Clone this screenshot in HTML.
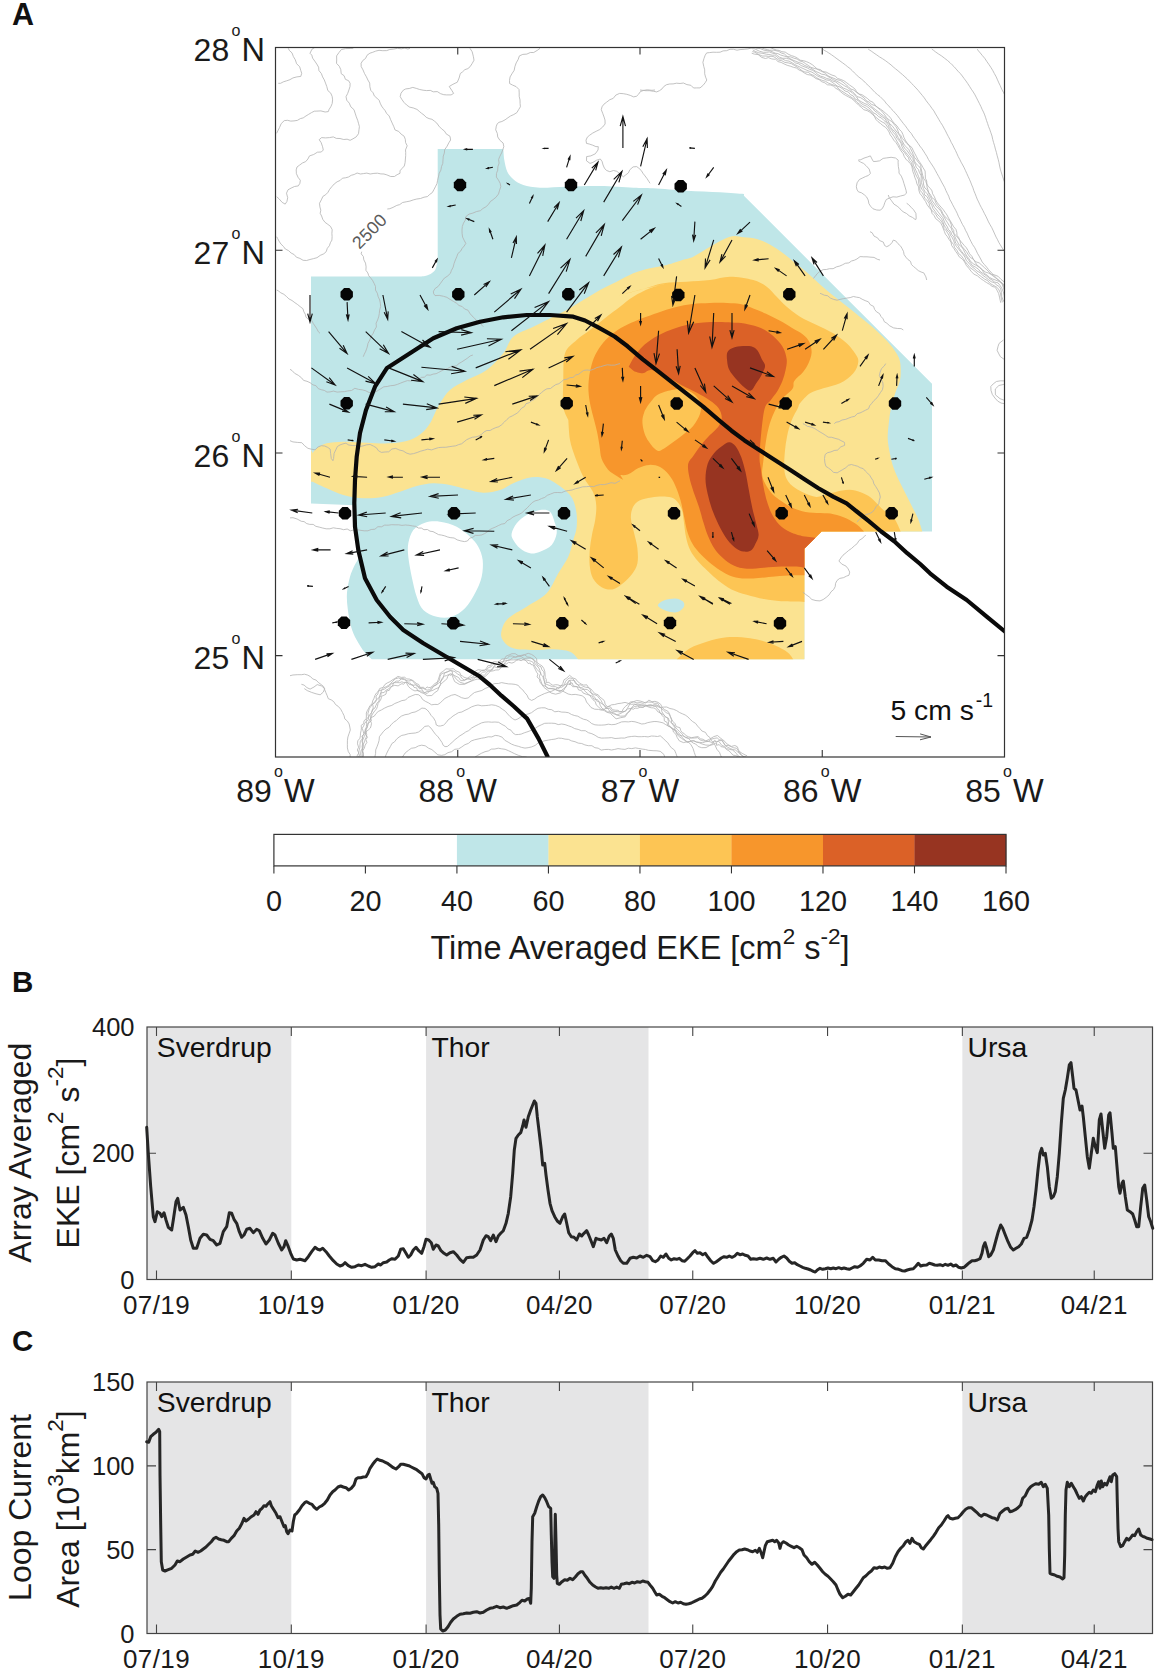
<!DOCTYPE html>
<html lang="en"><head><meta charset="utf-8"><title>Figure</title>
<style>html,body{margin:0;padding:0;background:#fff}svg{display:block}</style></head>
<body>
<svg width="1155" height="1672" viewBox="0 0 1155 1672" font-family="Liberation Sans, Arial, Helvetica, sans-serif">
<rect width="1155" height="1672" fill="#fff"/>
<text x="12" y="24.5" font-size="30.5" font-weight="bold" fill="#111">A</text>
<text x="12" y="991.5" font-size="29.5" font-weight="bold" fill="#111">B</text>
<text x="12" y="1351" font-size="29.5" font-weight="bold" fill="#111">C</text>
<clipPath id="mapclip"><rect x="275.5" y="47.5" width="729.0" height="709.5"/></clipPath>
<g clip-path="url(#mapclip)">
<path d="M311.0 276.5L416.0 276.5L416.0 276.5C417.5 276.4 422.3 276.6 425.0 276.0C427.7 275.4 430.2 274.3 432.0 273.0C433.8 271.7 435.1 270.5 436.0 268.0C436.9 265.5 437.4 259.7 437.7 258.0L437.7 258.0L437.7 149.0L503.0 149.0L503.3 149.0C503.5 150.8 503.7 156.2 504.3 160.0C505.0 163.8 505.8 168.4 507.3 171.7C508.8 174.9 510.7 177.1 513.3 179.3C516.0 181.6 518.9 183.6 523.3 185.0C527.8 186.4 532.8 187.4 540.0 187.7C547.2 187.9 556.7 186.9 566.7 186.7C576.7 186.4 588.9 185.8 600.0 186.0C611.1 186.2 624.4 187.3 633.3 187.7C642.2 188.1 644.4 187.8 653.3 188.3C662.2 188.8 675.6 190.0 686.7 190.7C697.8 191.3 710.4 191.8 720.0 192.3C729.6 192.9 740.0 193.7 744.0 194.0L743.9 195.7L932.0 383.8L932.0 531.5L821.7 531.5L804.4 548.8L804.4 659.3L371.7 659.3L371.7 659.3C370.5 658.1 367.1 655.5 364.6 652.3C362.1 649.1 359.0 644.3 356.7 640.0C354.4 635.7 352.5 631.7 351.0 626.4C349.5 621.1 348.4 614.0 347.7 608.4C347.0 602.8 346.6 597.9 347.0 592.6C347.4 587.3 348.8 581.3 350.0 576.8C351.2 572.3 353.0 569.1 354.5 565.6C356.0 562.1 358.5 559.8 359.0 556.0C359.5 552.2 358.1 548.2 357.5 543.0C356.9 537.8 356.0 531.2 355.5 525.0C355.0 518.8 354.7 509.2 354.5 506.0L354.5 505.2L311.0 503.6Z" fill="#bfe6e8"/>
<path d="M408.3 543.3C409.2 538.9 410.6 533.4 413.3 530.0C416.1 526.6 420.6 524.1 425.0 522.7C429.4 521.3 434.7 521.0 440.0 521.7C445.3 522.3 451.7 524.2 456.7 526.7C461.7 529.2 466.4 533.3 470.0 536.7C473.6 540.0 476.2 542.8 478.3 546.7C480.4 550.6 482.1 555.0 482.7 560.0C483.2 565.0 482.9 571.1 481.7 576.7C480.4 582.2 477.8 588.1 475.0 593.3C472.2 598.6 468.9 604.4 465.0 608.3C461.1 612.2 456.4 615.3 451.7 616.7C446.9 618.1 441.4 617.8 436.7 616.7C431.9 615.6 426.7 613.3 423.3 610.0C420.0 606.7 418.6 602.2 416.7 596.7C414.7 591.1 413.1 583.3 411.7 576.7C410.3 570.0 408.9 562.2 408.3 556.7C407.8 551.1 407.5 547.8 408.3 543.3Z" fill="#fff" />
<path d="M511.7 533.3C512.2 530.6 514.2 526.4 516.7 523.3C519.2 520.3 522.8 517.2 526.7 515.0C530.6 512.8 536.1 510.6 540.0 510.0C543.9 509.4 547.5 509.4 550.0 511.7C552.5 513.9 553.9 519.7 555.0 523.3C556.1 526.9 557.2 529.7 556.7 533.3C556.1 536.9 554.4 541.9 551.7 545.0C548.9 548.1 543.6 550.3 540.0 551.7C536.4 553.1 533.3 553.9 530.0 553.3C526.7 552.8 522.8 550.6 520.0 548.3C517.2 546.1 514.7 542.5 513.3 540.0C511.9 537.5 511.1 536.1 511.7 533.3Z" fill="#fff" />
<path d="M311.0 481.7L311.0 450.0L312.7 453.3C313.3 452.5 314.3 450.0 316.7 448.3C319.0 446.7 322.2 444.4 326.7 443.3C331.1 442.2 336.7 441.8 343.3 441.7C350.0 441.6 358.9 442.4 366.7 442.7C374.4 442.9 382.8 443.8 390.0 443.3C397.2 442.9 404.4 441.9 410.0 440.0C415.6 438.1 420.0 434.4 423.3 431.7C426.7 428.9 428.3 425.8 430.0 423.3C431.7 420.8 431.7 420.0 433.3 416.7C435.0 413.3 437.2 407.8 440.0 403.3C442.8 398.9 445.6 393.9 450.0 390.0C454.4 386.1 460.6 383.3 466.7 380.0C472.8 376.7 480.6 374.4 486.7 370.0C492.8 365.6 498.9 358.9 503.3 353.3C507.8 347.8 508.3 341.1 513.3 336.7C518.3 332.2 526.7 330.0 533.3 326.7C540.0 323.3 547.8 319.4 553.3 316.7C558.9 313.9 561.7 312.8 566.7 310.0C571.7 307.2 577.8 303.3 583.3 300.0C588.9 296.7 594.4 293.1 600.0 290.0C605.6 286.9 611.1 284.4 616.7 281.7C622.2 278.9 627.8 275.6 633.3 273.3C638.9 271.1 644.4 269.7 650.0 268.3C655.6 266.9 660.8 266.5 666.7 265.0C672.5 263.5 680.6 260.7 685.0 259.3C689.4 257.9 689.2 258.8 693.3 256.7C697.5 254.6 703.9 250.0 710.0 246.7C716.1 243.3 724.4 238.2 730.0 236.7C735.6 235.1 739.3 236.8 743.8 237.2C748.3 237.6 752.5 237.8 756.8 239.0C761.1 240.2 765.5 242.0 769.8 244.4C774.1 246.7 778.8 250.1 782.8 253.0C786.7 255.9 790.0 258.8 793.6 261.7C797.2 264.6 800.8 267.3 804.4 270.3C808.0 273.4 811.6 276.8 815.2 280.1C818.8 283.3 822.5 286.8 826.1 289.8C829.7 292.9 833.3 295.6 836.9 298.5C840.5 301.4 844.1 304.3 847.7 307.1C851.3 310.0 854.9 312.9 858.5 315.8C862.1 318.7 865.7 321.4 869.4 324.5C873.0 327.5 876.9 331.1 880.2 334.2C883.4 337.3 886.3 340.0 888.8 342.9C891.4 345.7 893.5 348.6 895.3 351.5C897.1 354.4 898.8 356.9 899.7 360.2C900.6 363.4 900.7 367.4 900.7 371.0C900.7 374.6 900.6 378.2 899.7 381.8C898.7 385.5 896.7 388.6 895.3 393.0C893.8 397.4 892.0 403.1 891.0 408.1C889.9 413.2 889.3 418.2 888.8 423.3C888.2 428.3 887.5 433.4 887.7 438.4C887.9 443.5 889.0 448.9 889.9 453.6C890.8 458.3 891.7 462.3 893.1 466.6C894.6 470.9 896.5 475.2 898.5 479.6C900.5 483.9 902.9 488.2 905.0 492.6C907.2 496.9 909.4 501.2 911.5 505.5C913.7 509.9 916.2 514.2 918.0 518.5C919.8 522.9 921.6 529.4 922.3 531.5L821.7 531.5L804.4 548.8L804.4 659.3L578.3 659.3C576.9 658.1 574.2 653.3 570.0 651.7C565.8 650.0 559.4 649.6 553.3 649.3C547.2 649.1 540.0 650.2 533.3 650.0C526.7 649.8 518.4 650.0 513.3 648.3C508.2 646.7 504.6 643.1 502.7 640.0C500.7 636.9 500.7 633.6 501.7 630.0C502.6 626.4 504.2 622.2 508.3 618.3C512.5 614.4 520.3 610.8 526.7 606.7C533.1 602.5 541.4 598.9 546.7 593.3C551.9 587.8 554.7 579.4 558.3 573.3C561.9 567.2 565.8 562.2 568.3 556.7C570.8 551.1 571.9 545.0 573.3 540.0C574.7 535.0 576.2 531.7 576.7 526.7C577.1 521.7 577.1 515.3 576.0 510.0C574.9 504.7 573.8 499.7 570.0 495.0C566.2 490.3 558.3 484.6 553.3 481.7C548.3 478.7 544.4 477.9 540.0 477.3C535.6 476.8 531.1 477.3 526.7 478.3C522.2 479.3 517.8 481.4 513.3 483.3C508.9 485.3 505.0 488.4 500.0 490.0C495.0 491.6 488.9 492.8 483.3 492.7C477.8 492.6 472.2 490.6 466.7 489.3C461.1 488.1 455.6 486.0 450.0 485.0C444.4 484.0 438.9 483.2 433.3 483.3C427.8 483.5 422.2 484.6 416.7 486.0C411.1 487.4 405.6 489.9 400.0 491.7C394.4 493.4 389.4 495.6 383.3 496.7C377.2 497.8 370.0 498.6 363.3 498.3C356.7 498.1 349.4 496.7 343.3 495.0C337.2 493.3 331.8 490.6 326.7 488.3C321.6 486.1 315.0 482.8 312.7 481.7Z" fill="#fbe391"/>
<path d="M657.9 605.6C657.6 603.8 661.5 601.4 664.4 600.2C667.3 599.0 672.2 598.3 675.2 598.4C678.3 598.6 681.4 599.9 682.8 601.3C684.3 602.6 684.8 604.9 683.9 606.7C683.0 608.5 680.3 611.4 677.4 612.1C674.5 612.8 669.8 612.1 666.6 611.0C663.3 609.9 658.3 607.4 657.9 605.6Z" fill="#bfe6e8" />
<path d="M568.3 420.0C567.5 417.8 564.2 413.3 563.3 406.7C562.5 400.0 563.1 388.9 563.3 380.0C563.6 371.1 562.8 360.0 565.0 353.3C567.2 346.7 572.5 343.9 576.7 340.0C580.8 336.1 585.0 333.9 590.0 330.0C595.0 326.1 601.7 320.6 606.7 316.7C611.7 312.8 615.6 310.0 620.0 306.7C624.4 303.3 628.3 299.7 633.3 296.7C638.3 293.6 644.4 290.6 650.0 288.3C655.6 286.1 671.7 282.2 666.7 283.3C661.7 284.4 624.4 293.9 620.0 295.0C615.6 296.1 632.8 291.9 640.0 290.0C647.2 288.1 655.6 284.7 663.3 283.3C671.1 281.9 678.9 282.2 686.7 281.7C694.4 281.1 702.8 280.8 710.0 280.0C717.2 279.2 722.8 276.7 730.0 276.7C737.2 276.7 747.2 278.3 753.3 280.0C759.4 281.7 762.8 283.9 766.7 286.7C770.6 289.4 773.3 293.3 776.7 296.7C780.0 300.0 782.8 303.3 786.7 306.7C790.6 310.0 795.0 313.6 800.0 316.7C805.0 319.7 811.1 322.2 816.7 325.0C822.2 327.8 828.3 330.3 833.3 333.3C838.3 336.4 843.1 340.0 846.7 343.3C850.3 346.7 853.1 350.3 855.0 353.3C856.9 356.4 858.6 358.3 858.3 361.7C858.1 365.0 856.4 369.7 853.3 373.3C850.3 376.9 845.0 380.8 840.0 383.3C835.0 385.8 828.3 386.7 823.3 388.3C818.3 390.0 813.9 390.8 810.0 393.3C806.1 395.8 802.0 400.9 800.0 403.3C798.0 405.8 799.3 405.2 797.9 408.1C796.4 411.1 793.2 416.4 791.4 421.1C789.6 425.8 788.1 431.2 787.1 436.3C786.0 441.3 785.4 446.4 784.9 451.4C784.4 456.5 784.1 462.3 784.2 466.6C784.4 470.9 784.6 474.2 786.0 477.4C787.3 480.6 789.6 483.5 792.5 486.1C795.4 488.6 799.3 490.8 803.3 492.6C807.3 494.4 811.9 496.7 816.3 496.9C820.6 497.1 824.9 494.7 829.3 493.6C833.6 492.6 837.9 490.9 842.3 490.4C846.6 489.8 850.9 489.5 855.2 490.4C859.6 491.3 864.6 493.6 868.2 495.8C871.8 498.0 874.4 501.0 876.9 503.4C879.4 505.7 880.5 507.3 883.4 509.9C886.3 512.4 891.3 514.9 894.2 518.5C897.1 522.1 899.6 529.4 900.7 531.5L821.7 531.5L804.4 548.8L804.4 601.9C800.5 601.8 788.0 601.7 781.3 601.3C774.6 600.8 769.8 600.2 764.0 599.1C758.2 598.0 752.1 596.4 746.7 594.8C741.3 593.1 736.2 591.7 731.5 589.4C726.8 587.0 722.5 583.8 718.5 580.7C714.6 577.6 711.1 574.2 707.7 571.0C704.3 567.7 700.9 564.6 698.0 561.2C695.1 557.8 692.4 554.4 690.4 550.4C688.4 546.4 687.1 542.1 686.1 537.4C685.0 532.7 684.6 526.9 683.9 522.3C683.2 517.6 683.2 513.1 681.7 509.3C680.3 505.5 677.8 501.6 675.2 499.5C672.7 497.4 670.5 497.1 666.6 496.7C662.6 496.3 655.9 496.7 651.4 497.4C646.9 498.0 642.6 499.0 639.5 500.6C636.5 502.2 634.5 504.2 633.0 507.1C631.6 510.0 630.7 513.6 630.9 517.9C631.0 522.3 633.0 528.0 634.1 533.1C635.2 538.1 636.8 543.2 637.4 548.2C637.9 553.3 638.3 559.0 637.4 563.4C636.5 567.7 634.3 571.0 631.9 574.2C629.6 577.4 626.5 580.3 623.3 582.9C620.0 585.4 616.1 588.6 612.5 589.4C608.9 590.1 604.9 589.0 601.6 587.2C598.4 585.4 595.0 582.1 593.0 578.5C591.0 574.9 590.3 570.2 589.7 565.5C589.2 560.9 589.4 555.4 589.7 550.4C590.1 545.3 591.0 540.3 591.9 535.2C592.8 530.2 594.4 525.1 595.2 520.1C595.9 515.0 596.6 509.6 596.2 504.9C595.9 500.2 595.1 496.7 593.0 491.9C590.8 487.2 586.3 482.5 583.3 476.7C580.3 470.8 577.2 462.8 575.0 456.7C572.8 450.6 571.1 446.1 570.0 440.0C568.9 433.9 568.6 423.3 568.3 420.0Z" fill="#fdc554"/>
<path d="M793.3 659.3L676.7 659.3L676.7 659.3C678.9 657.5 685.0 651.3 690.0 648.3C695.0 645.4 700.6 643.5 706.7 641.7C712.8 639.8 719.4 637.9 726.7 637.3C733.9 636.8 742.8 637.3 750.0 638.3C757.2 639.3 763.9 641.1 770.0 643.3C776.1 645.6 782.8 649.0 786.7 651.7C790.6 654.3 792.2 658.1 793.3 659.3Z" fill="#fdc554"/>
<path d="M623.3 480.0C622.2 479.4 619.3 477.9 616.8 476.1C614.3 474.4 610.7 472.5 608.1 469.7C605.6 466.8 603.1 462.8 601.6 458.8C600.2 454.9 600.2 450.2 599.5 445.8C598.8 441.5 598.2 437.2 597.3 432.9C596.4 428.5 595.2 424.2 594.1 419.9C593.0 415.5 591.7 411.2 590.8 406.9C589.9 402.6 589.0 398.2 588.7 393.9C588.3 389.6 588.3 385.2 588.7 380.9C589.0 376.6 589.7 372.3 590.8 367.9C591.9 363.6 593.0 359.3 595.2 354.9C597.3 350.6 600.6 345.7 603.8 341.9C607.1 338.2 610.7 335.1 614.6 332.2C618.6 329.3 622.9 327.0 627.6 324.6C632.3 322.3 637.7 320.1 642.8 318.1C647.8 316.2 652.5 314.5 657.9 312.7C663.3 310.9 669.5 308.8 675.2 307.3C681.0 305.9 686.8 304.8 692.6 304.1C698.3 303.3 704.1 303.2 709.9 303.0C715.6 302.8 722.1 302.8 727.2 303.0C732.2 303.2 735.8 303.2 740.2 304.1C744.5 305.0 748.8 306.8 753.2 308.4C757.5 310.0 761.8 311.8 766.1 313.8C770.5 315.8 774.8 318.0 779.1 320.3C783.5 322.6 788.2 325.5 792.1 327.9C796.1 330.2 800.1 332.0 802.9 334.4C805.8 336.7 808.0 338.9 809.4 341.9C810.9 345.0 811.8 349.2 811.6 352.8C811.4 356.4 809.8 360.3 808.4 363.6C806.9 366.8 805.3 369.4 802.9 372.3C800.6 375.1 796.0 378.2 794.3 380.9C792.5 383.6 794.6 385.6 792.5 388.7C790.4 391.8 784.7 395.5 781.6 399.5C778.6 403.4 776.2 407.8 774.1 412.5C771.9 417.2 770.1 422.2 768.7 427.6C767.2 433.0 766.3 439.2 765.4 444.9C764.5 450.7 763.8 457.2 763.2 462.3C762.7 467.3 761.6 471.3 762.2 475.2C762.7 479.2 764.7 482.8 766.5 486.1C768.3 489.3 770.5 492.2 773.0 494.7C775.5 497.2 778.4 499.0 781.6 501.2C784.9 503.4 788.5 505.9 792.5 507.7C796.4 509.5 800.8 511.1 805.5 512.0C810.1 512.9 815.9 512.8 820.6 513.1C825.3 513.5 829.3 513.3 833.6 514.2C837.9 515.1 842.6 516.7 846.6 518.5C850.5 520.3 854.5 522.9 857.4 525.0C860.3 527.2 862.8 530.4 863.9 531.5L821.7 531.5L804.4 548.8L804.4 575.3L803.4 575.3C801.5 575.3 796.9 575.1 792.1 575.3C787.4 575.5 781.3 575.8 774.8 576.4C768.3 576.9 759.7 578.3 753.2 578.5C746.7 578.7 740.9 578.5 735.8 577.4C730.8 576.4 726.8 574.2 722.9 572.0C718.9 569.9 715.6 567.3 712.0 564.5C708.4 561.6 704.5 558.1 701.2 554.7C698.0 551.3 694.9 547.9 692.6 543.9C690.2 539.9 688.6 535.6 687.1 530.9C685.7 526.2 685.0 520.8 683.9 515.8C682.8 510.7 682.1 505.7 680.6 500.6C679.2 495.6 677.2 489.8 675.2 485.5C673.3 481.1 671.3 477.7 668.7 474.6C666.2 471.6 663.3 468.7 660.1 467.1C656.8 465.4 652.9 464.7 649.3 464.9C645.7 465.1 642.0 466.5 638.4 468.1C634.8 469.8 631.2 473.7 627.6 474.6C624.0 475.5 620.2 475.4 616.8 473.5C613.4 471.7 609.6 467.2 607.1 463.8C604.5 460.4 602.9 457.0 601.6 453.0C600.4 449.0 599.8 442.2 599.5 440.0Z" fill="#f7962c"/>
<path d="M642.4 420.6C642.5 417.8 643.3 415.0 644.1 412.8C644.8 410.5 645.7 409.1 646.9 407.1C648.1 405.2 649.9 402.8 651.4 401.0C652.9 399.1 654.2 397.2 655.9 395.9C657.6 394.6 659.5 393.9 661.5 393.1C663.6 392.2 666.0 391.4 668.3 390.8C670.5 390.2 673.0 389.6 675.0 389.4C677.1 389.1 678.4 388.9 680.6 389.1C682.9 389.4 686.1 389.8 688.5 390.8C691.0 391.9 693.4 393.5 695.3 395.3C697.2 397.1 698.8 399.4 699.8 401.5C700.8 403.7 701.2 405.8 701.1 408.3C701.0 410.7 700.2 413.7 699.2 416.1C698.2 418.6 696.7 420.8 695.3 422.9C693.9 425.0 692.5 426.8 690.8 428.5C689.1 430.2 687.0 431.5 685.2 433.0C683.3 434.5 681.5 436.0 679.5 437.5C677.6 439.0 675.4 440.5 673.3 442.0C671.3 443.5 669.1 445.2 667.1 446.5C665.2 447.8 663.0 449.2 661.5 449.9C660.0 450.7 659.5 451.4 658.1 451.0C656.8 450.7 655.1 449.2 653.6 447.7C652.1 446.2 650.4 443.9 649.1 442.0C647.8 440.2 646.7 438.5 645.8 436.4C644.8 434.3 644.1 432.3 643.5 429.7C642.9 427.0 642.3 423.5 642.4 420.6Z" fill="#fdc554" />
<path d="M628.7 366.8C629.6 365.2 632.1 360.2 634.1 357.1C636.1 354.0 638.1 351.1 640.6 348.4C643.1 345.7 646.0 343.2 649.3 340.9C652.5 338.5 656.1 336.4 660.1 334.4C664.1 332.4 668.4 330.6 673.1 329.0C677.8 327.3 683.2 325.7 688.2 324.6C693.3 323.5 698.3 322.9 703.4 322.5C708.4 322.0 713.8 322.0 718.5 322.0C723.2 322.0 727.2 322.2 731.5 322.5C735.8 322.7 740.2 322.8 744.5 323.5C748.8 324.3 753.5 325.4 757.5 326.8C761.5 328.2 765.1 330.0 768.3 332.2C771.6 334.4 774.4 337.1 777.0 339.8C779.5 342.5 781.8 345.2 783.5 348.4C785.1 351.7 786.3 355.7 786.7 359.3C787.1 362.9 786.3 366.5 785.6 370.1C784.9 373.7 783.8 377.3 782.4 380.9C780.9 384.5 779.0 388.5 777.0 391.7C775.0 395.0 772.6 397.1 770.5 400.4C768.3 403.6 765.8 402.4 764.0 411.2C762.2 420.0 760.2 443.5 759.7 453.0C759.1 462.5 760.2 463.1 760.7 468.1C761.3 473.2 762.0 478.2 762.9 483.3C763.8 488.3 764.7 493.4 766.1 498.4C767.6 503.5 769.4 509.3 771.6 513.6C773.7 517.9 776.1 521.3 779.1 524.4C782.2 527.5 786.0 530.0 790.0 532.0C793.9 534.0 800.8 535.6 802.9 536.3L815.5 537.7L804.4 548.8L804.4 567.7L803.4 567.7C802.2 567.5 800.1 566.8 796.5 566.6C792.8 566.4 786.7 566.4 781.3 566.6C775.9 566.8 769.8 567.3 764.0 567.7C758.2 568.1 751.7 569.1 746.7 568.8C741.6 568.4 737.6 567.3 733.7 565.5C729.7 563.7 726.1 560.9 722.9 558.0C719.6 555.1 716.7 552.0 714.2 548.2C711.7 544.4 709.5 539.6 707.7 535.2C705.9 530.9 704.8 526.9 703.4 522.3C701.9 517.6 700.7 512.2 699.0 507.1C697.4 502.0 695.3 497.0 693.6 491.9C692.0 486.9 690.2 481.5 689.3 476.8C688.4 472.1 687.5 467.3 688.2 463.8C688.9 460.3 691.5 458.8 693.6 455.6C695.8 452.4 698.5 448.2 701.2 444.8C703.9 441.3 707.0 438.1 709.9 435.0C712.8 432.0 716.5 429.2 718.5 426.4C720.5 423.5 721.8 420.8 721.8 417.7C721.8 414.6 720.5 410.9 718.5 408.0C716.5 405.1 713.5 402.9 709.9 400.4C706.3 397.9 701.6 395.3 696.9 392.8C692.2 390.3 686.8 387.9 681.7 385.2C676.7 382.5 671.6 379.1 666.6 376.6C661.5 374.1 655.4 370.6 651.4 370.1C647.5 369.5 645.7 373.2 642.8 373.3C639.9 373.5 635.6 371.5 634.1 371.2Z" fill="#db6127"/>
<path d="M727.2 352.8C727.9 350.6 729.4 349.5 731.5 348.4C733.7 347.4 736.9 346.6 740.2 346.3C743.4 345.9 748.1 345.6 751.0 346.3C753.9 347.0 755.7 348.4 757.5 350.6C759.3 352.8 760.6 356.7 761.8 359.3C763.1 361.8 765.1 363.2 765.1 365.8C765.1 368.3 763.3 371.5 761.8 374.4C760.4 377.3 758.2 380.4 756.4 383.1C754.6 385.8 753.0 389.9 751.0 390.6C749.0 391.4 747.0 389.4 744.5 387.4C742.0 385.4 738.4 381.6 735.8 378.7C733.3 375.9 730.8 373.0 729.4 370.1C727.9 367.2 727.5 364.3 727.2 361.4C726.8 358.5 726.5 354.9 727.2 352.8Z" fill="#973421" />
<path d="M729.4 442.2C731.5 442.3 733.9 444.0 735.8 446.5C737.8 449.0 739.6 453.0 741.3 457.3C742.9 461.6 744.3 467.1 745.6 472.5C746.8 477.9 747.7 484.0 748.8 489.8C749.9 495.6 750.8 501.3 752.1 507.1C753.3 512.9 755.3 519.7 756.4 524.4C757.5 529.1 758.8 532.0 758.6 535.2C758.4 538.5 756.6 541.4 755.3 543.9C754.1 546.4 753.0 549.1 751.0 550.4C749.0 551.7 745.9 551.8 743.4 551.5C740.9 551.1 738.5 550.2 735.8 548.2C733.1 546.2 730.1 543.5 727.2 539.6C724.3 535.6 721.1 529.5 718.5 524.4C716.0 519.4 713.8 514.3 712.0 509.3C710.2 504.2 708.8 499.2 707.7 494.1C706.6 489.1 705.5 484.0 705.5 479.0C705.5 473.9 706.3 468.1 707.7 463.8C709.1 459.5 711.7 456.1 714.2 453.0C716.7 449.9 720.3 447.2 722.9 445.4C725.4 443.6 727.2 442.0 729.4 442.2Z" fill="#973421" />
<path d="M278.3 83.3L280.6 83.3L283.4 81.8L286.7 80.8L289.9 79.7L293.0 77.9L296.8 76.9L300.8 76.4L301.7 73.3L300.8 70.6L299.7 66.8L296.6 63.7L295.3 59.8L293.4 56.6L292.0 52.9L289.4 50.5L288.3 48.3M276.7 133.3L277.8 130.9L279.5 127.6L281.2 123.6L284.3 120.6L287.4 120.3L290.7 121.1L294.0 120.9L297.3 120.4L300.4 118.6L303.2 117.9L305.9 116.0L308.7 114.3L311.5 112.6L314.3 111.2L316.8 111.1L320.9 110.9L325.1 112.0L328.3 111.6L329.1 109.4L330.8 106.8L332.2 103.5L332.6 99.9L332.2 96.6L330.8 93.2L327.8 90.5L326.8 86.6L325.5 83.1L324.3 79.9L322.6 76.9L321.4 73.6L318.9 70.5L318.6 67.2L316.8 64.1L314.7 61.0L312.6 58.1L311.8 55.1L310.0 53.3L311.9 49.3L315.0 47.3M276.7 196.7L279.2 199.0L282.2 202.4L285.2 204.1L286.9 201.5L287.7 197.7L286.5 193.2L288.0 189.8L291.1 188.1L294.5 186.5L298.3 185.9L299.9 183.3L300.3 180.3L298.0 177.2L296.4 173.6L296.2 169.9L297.0 167.0L299.6 165.1L302.4 163.0L305.7 161.6L307.9 159.0L309.5 155.9L313.7 154.5L317.4 152.2L321.3 152.0L323.3 150.0L322.6 146.8L321.2 142.7L319.2 139.7L321.6 137.6L325.5 137.9L329.5 137.6L333.3 136.9L336.3 138.4L340.0 138.5L343.7 139.5L347.1 139.2L350.1 140.3L353.0 138.8L356.2 136.9L358.5 133.7L359.0 129.7L359.4 126.6L358.6 123.7L357.7 120.4L356.3 116.8L355.1 113.1L354.0 109.7L350.8 106.8L349.3 103.2L346.8 100.3L346.0 96.7L347.7 93.4L348.9 90.0L350.0 86.5L350.1 83.3L348.6 80.7L345.4 79.3L344.1 75.7L341.2 73.7L340.8 69.7L339.3 66.3L336.5 63.3L336.7 60.0L336.6 55.9L339.0 52.5L341.4 49.5L345.5 48.6L350.1 48.5L353.3 48.3M276.7 236.7L277.6 238.5L279.0 241.1L280.9 244.0L283.5 246.5L285.3 249.0L288.5 250.6L291.1 253.0L294.2 254.6L296.4 257.2L299.9 258.4L303.1 260.3L306.6 260.5L309.9 259.5L313.3 258.7L317.0 257.7L320.2 255.4L323.8 253.8L326.2 251.7L327.3 248.3L329.4 245.7L330.4 242.7L331.9 240.1L332.1 236.7L331.9 233.3L332.2 229.7L330.5 226.4L327.9 224.4L325.1 222.4L322.8 219.4L321.6 216.0L320.2 213.3L320.8 210.2L319.9 206.9L319.5 203.3L321.3 199.9L322.9 196.4L325.7 194.7L327.9 192.4L329.6 189.4L331.9 186.6L334.3 183.9L337.1 181.8L340.2 180.4L342.4 178.2L345.5 177.8L348.5 177.0L351.2 175.3L354.2 174.5L357.1 173.0L360.4 174.0L363.4 173.6L366.8 173.1L370.2 174.0L373.9 173.4L377.5 173.2L380.8 173.9L383.9 174.0L386.7 174.8L390.7 176.5L394.4 176.5L397.1 174.7L400.0 173.3L400.0 170.8L401.9 168.6L404.3 166.0L405.1 162.6L405.4 159.0L405.7 155.6L405.7 152.5L405.5 149.9L407.2 145.8L405.6 142.6L405.3 139.3L404.1 136.2L401.1 134.1L398.7 131.4L395.1 130.0L393.7 126.4L392.2 123.1L390.6 119.6L389.2 116.0L386.6 113.4L385.1 110.6L383.3 108.4L381.6 106.1L380.2 103.2L379.2 100.4L376.9 98.1L374.3 95.9L373.1 92.8L370.8 90.4L369.9 86.8L369.7 83.1L367.9 80.0L366.4 76.8L364.5 73.5L363.0 69.9L361.2 66.6L361.1 63.3L362.8 60.5L365.5 58.5L367.0 55.3L369.9 53.2L372.7 52.3L375.7 51.1L379.0 50.3L382.8 50.7L386.7 50.6L389.8 49.5L393.5 49.1L397.4 48.3L401.3 48.8L404.8 48.1L407.9 49.0L410.0 48.3M470.0 48.3L472.2 51.8L473.4 56.7L474.0 60.2L472.1 63.6L470.1 66.7L467.9 68.6L464.8 69.7L462.4 72.0L460.3 73.5L459.1 78.0L457.3 82.2L452.9 84.3L449.2 86.5L451.7 90.2L453.6 93.4L451.1 94.9L446.7 94.9L443.8 94.7L440.6 93.7L437.3 91.6L433.3 91.8L430.3 90.4L426.6 90.6L423.1 90.2L419.7 89.5L416.7 88.5L412.8 87.4L409.2 88.5L405.8 88.9L403.4 90.1L401.0 93.2L400.2 96.6L401.7 99.2L403.9 102.3L406.6 105.0L409.6 107.1L413.4 108.0L417.0 109.4L419.3 111.4L421.6 113.3L424.1 115.1L426.2 117.3L429.0 118.6L432.0 119.3L434.4 121.1L436.8 123.1L438.9 126.1L441.6 128.9L444.5 131.1L446.1 133.8L450.0 136.3L450.6 140.0L448.8 142.8L447.1 146.2L444.6 149.8L444.4 152.9L443.3 156.1L443.0 159.7L442.8 163.3L441.5 166.6L440.9 170.1L439.2 173.4L438.4 176.9L437.6 180.3L437.0 183.5L435.4 186.8L433.8 189.8L432.3 192.6L429.6 194.5L427.4 196.6L424.0 197.2L420.5 198.5L416.8 199.0L413.3 199.9L409.9 201.1L406.2 201.8L402.6 202.5L399.7 204.6L396.8 205.4L393.0 207.4L389.8 208.7L387.3 209.0M361.7 251.7L361.2 253.9L363.3 256.4L363.8 259.8L365.5 263.1L366.1 266.7L365.9 270.3L367.8 272.9L368.8 275.8L370.9 278.2L372.7 280.7L374.2 283.5L375.5 286.5L375.5 290.1L377.3 293.2L378.2 296.7L379.7 300.0L380.4 303.4L380.6 306.6L379.6 310.2L379.3 313.6L378.7 316.8L377.6 320.0L376.1 323.2L376.4 327.0L374.5 330.1L373.1 333.5L371.0 336.5L369.8 339.9L368.0 343.4L367.1 347.5L365.7 351.3L364.2 354.4L363.3 356.7M540.0 48.3L537.7 50.1L533.7 52.5L530.3 52.5L526.8 54.1L522.8 54.4L519.4 55.9L518.1 59.6L516.2 62.9L514.9 66.6L514.2 70.3L512.1 73.5L510.1 76.9L509.5 80.4L509.6 83.5L512.6 85.1L516.1 86.6L519.0 89.5L519.2 92.8L519.2 96.4L520.0 99.9L520.1 103.4L520.4 106.8L518.7 109.5L516.9 112.6L513.8 114.5L510.5 116.0L508.0 117.7L505.1 119.8L501.9 121.5L499.0 122.3L497.3 123.7L496.3 126.2L495.7 129.8L497.3 133.4L497.7 136.9L499.9 140.3L503.1 143.0L503.8 146.6L502.8 149.7L501.6 152.9L499.7 156.6L498.6 159.5L499.1 163.2L497.9 166.7L497.7 170.2L496.5 173.3L496.4 177.1L498.5 180.2L500.2 183.3L500.8 186.7L499.6 190.2L498.5 194.0L496.1 197.1L493.0 199.7L490.4 201.5L488.5 204.4L485.9 206.8L482.9 208.5L480.4 210.7L476.4 211.6L472.8 213.1L469.1 214.1L466.2 216.2L465.4 220.0L463.5 223.1L462.3 226.5L462.0 230.0L462.1 233.4L462.6 237.1L464.1 240.2L465.8 243.4L464.2 246.0L462.2 248.3L460.6 251.2L457.9 253.5L456.8 256.7L455.4 259.9L454.1 263.4L453.2 267.1L451.5 270.3L450.3 273.5L447.5 276.1L444.4 278.1L442.2 280.9L440.3 283.6L438.2 286.4L435.1 288.5L433.5 291.2L433.5 293.3L435.0 295.6L439.2 295.4L443.5 296.3L446.8 297.3L449.9 299.3L453.3 301.3L456.7 303.3L459.0 305.5L462.3 306.6L464.6 309.0L468.0 310.2L469.9 313.4L472.0 315.9L474.6 318.3L477.0 321.1L480.1 322.9L481.9 325.2L483.3 326.7M655.0 90.0L651.8 90.3L647.3 89.8L643.5 90.4L640.4 91.6L638.5 94.3L636.6 96.2L633.7 96.9L630.3 95.4L626.7 94.3L623.4 93.7L619.6 93.4L615.8 95.1L613.2 98.4L609.8 99.7L606.6 102.2L603.8 104.3L602.0 106.8L601.3 109.7L602.7 113.3L604.0 116.9L605.0 120.0L605.1 124.0L602.6 127.1L599.6 129.6L596.5 131.1L592.8 133.0L589.4 135.4L587.3 137.2L586.0 140.2L586.5 143.4L589.2 144.0L592.7 145.2L595.9 146.6L598.3 146.7L598.0 150.0L595.3 153.8L590.8 155.9L586.6 156.6L586.5 160.8L590.0 163.4L592.9 162.4L596.6 160.2L600.3 159.0L602.1 161.5L603.0 164.9L604.4 168.1L606.4 170.4L609.8 171.7L613.5 170.5L616.8 171.3L620.5 174.2L623.3 176.8L625.5 175.1L628.4 172.9L629.8 169.8L633.1 166.9L636.7 166.6L638.8 168.2L641.2 170.4L643.1 173.5L645.0 175.9L647.1 178.7L648.8 181.4L650.0 183.3M276.7 290.0L278.5 291.0L280.8 292.8L283.9 294.3L286.7 296.7L288.9 298.9L292.0 300.5L294.9 302.7L297.7 304.6L300.1 306.6L302.9 308.7L303.9 311.8L305.3 314.3L306.0 317.2L308.6 319.3L311.7 320.4L313.2 323.4L315.0 326.0L316.9 328.9L318.3 331.7L320.0 333.3M640.0 90.0L642.4 90.3L645.8 90.7L649.8 90.7L653.5 91.3L656.7 91.9L659.6 90.6L662.0 88.9L663.8 86.5L666.5 84.7L669.6 84.0L673.1 83.9L676.6 83.2L680.1 83.5L683.4 83.0L686.9 84.6L690.9 85.3L693.6 88.0L696.6 87.9L700.0 87.9L702.9 85.5L705.2 82.7L706.8 80.0L705.6 77.2L704.7 73.8L704.7 69.8L703.8 66.6L702.9 62.3L704.0 58.4L705.2 55.2L706.7 52.9L709.7 52.6L713.0 52.2L716.5 52.3L720.1 52.2L723.1 50.9L726.5 50.7L730.0 49.3L733.6 49.3L737.0 50.2L740.0 49.6L744.1 49.3L747.9 48.9L751.1 48.1L753.3 48.3M858.3 160.0L860.8 159.7L864.0 158.1L867.4 157.0L870.4 155.9L871.9 158.9L873.4 161.5L876.0 161.4L879.7 160.8L883.1 158.4L886.6 157.9L891.1 157.3L895.5 158.0L898.2 160.1L898.1 162.7L898.3 166.3L899.0 170.2L899.0 173.1L901.3 176.1L903.0 180.2L903.9 183.3L905.1 187.1L906.1 190.6L906.5 193.2L904.3 195.1L900.5 196.0L896.8 197.1L893.0 196.8L889.6 198.0L886.3 199.5L884.9 202.4L883.8 205.7L882.3 208.6L880.1 210.2L876.7 210.0L873.0 208.8L870.5 206.2L868.9 203.6L868.2 200.0L866.5 196.8L864.3 194.8L861.5 192.8L858.4 191.8L857.1 189.8L856.3 186.8L857.1 182.8L859.4 179.5L862.3 178.1L865.4 176.6L868.5 175.4L870.4 173.4L869.2 169.1L866.0 165.6L863.7 163.5L860.5 162.0L858.3 160.7M888.3 195.0L889.2 197.6L891.5 200.7L893.9 204.1L897.2 206.2L899.5 208.1L901.5 210.5L903.9 212.2L906.5 213.5L909.2 215.8L912.6 217.5L915.1 219.4L916.0 219.4L916.2 217.9L915.9 213.4L913.6 209.8L911.1 207.3L908.7 204.7L906.7 203.3M870.0 231.7L872.2 232.8L874.0 236.1L877.5 237.8L879.5 240.5L883.3 242.1L884.6 245.5L886.7 246.7L889.4 245.4L892.0 242.6L893.3 240.1L895.7 240.9L897.9 243.6L900.7 246.2L902.1 248.6L903.5 251.4L904.1 254.6L905.9 257.2L907.9 259.5L910.5 261.4L911.4 264.5L913.5 266.5L915.8 268.4L918.3 270.6L921.1 272.0L923.8 272.9L925.9 276.9L926.7 280.0M813.3 278.3L815.0 276.7L816.9 274.0L819.8 271.4L823.2 269.6L826.3 269.5L829.5 268.7L833.1 268.7L836.4 266.9L839.8 266.0L842.5 264.8L845.3 263.3L848.8 262.9L851.5 261.0L854.4 260.2L856.9 259.0L860.1 256.6L863.8 256.8L867.0 256.8L869.9 257.1L874.0 257.4L877.4 259.3L880.0 260.0M820.0 293.3L821.8 294.0L824.3 295.2L827.5 295.7L830.4 298.1L833.7 299.4L837.0 300.2L840.0 299.4L843.3 298.7L846.7 298.1L850.2 297.6L853.4 296.5L856.6 297.2L859.4 297.6L862.1 299.2L865.1 300.6L868.4 301.8L870.4 304.8L873.6 306.4L874.6 309.4L876.5 311.8L879.5 313.6L881.0 316.5L883.1 318.8L884.3 321.7L886.8 323.2L889.8 325.9L893.6 327.9L897.7 328.5L901.2 328.6L903.3 330.0M822.7 49.1L824.1 50.3L826.3 51.4L828.7 52.9L831.4 54.7L834.2 56.7L837.0 58.8L839.9 60.9L842.8 63.0L845.5 65.0L847.7 66.8L850.1 68.6L852.3 70.7L854.4 72.9L856.6 75.0L858.9 77.1L861.4 79.0L863.8 81.0L865.9 83.3L868.2 85.4L870.5 87.6L872.7 90.0L874.9 92.3L877.4 94.5L880.0 96.5L882.3 98.8L884.6 101.1L886.5 103.8L888.8 105.9L890.7 108.3L893.1 110.7L895.3 113.2L897.5 115.7L899.4 118.3L901.4 120.9L903.3 123.4L905.3 125.8L907.2 128.4L909.0 131.0L911.2 133.3L912.8 136.0L914.6 138.5L916.4 141.0L918.2 143.5L919.9 146.1L921.8 148.5L923.5 151.0L925.1 153.6L926.9 156.4L928.4 159.4L930.2 162.2L932.1 165.0L933.9 167.8L935.5 170.7L937.0 173.5L938.6 176.4L940.2 179.2L941.6 182.0L943.2 184.8L944.7 187.6L945.9 190.5L947.3 193.4L948.7 196.2L949.7 199.2L951.3 202.0L952.7 204.8L954.2 207.6L955.7 210.4L957.2 213.3L958.3 216.2L959.9 219.0L961.2 221.9L962.6 224.7L964.3 227.4L965.5 230.3L967.1 233.1L968.3 236.0L969.7 238.9L971.1 241.7L972.6 244.6L974.5 247.3L976.0 250.2L977.4 253.2L979.1 256.1L980.7 259.0L982.2 262.0L984.4 264.6L986.6 267.1L988.5 269.6L990.8 272.0L993.2 274.6L995.5 277.3L998.0 279.6L1000.5 281.7L1002.7 283.6L1004.4 285.2L1005.7 286.6M868.2 49.1L869.7 50.1L871.7 51.4L874.0 53.1L876.7 54.9L879.5 56.9L882.5 58.7L885.5 60.7L888.3 62.8L891.0 64.9L893.2 66.9L895.5 68.8L897.9 70.7L900.2 72.7L902.6 74.7L904.9 76.8L907.2 78.9L909.4 81.1L911.5 83.3L913.6 85.5L915.9 87.9L918.1 90.3L920.2 92.9L922.3 95.4L924.3 97.9L926.1 100.6L928.1 103.2L930.0 105.6L931.8 108.2L933.9 110.9L935.5 113.9L937.3 116.8L938.9 119.6L940.6 122.5L942.4 125.2L943.9 128.0L945.5 130.9L946.9 133.8L948.4 136.6L949.9 139.4L951.2 142.3L952.8 145.1L954.1 147.9L955.6 150.7L956.9 153.6L958.2 156.5L959.7 159.3L961.1 162.2L962.7 165.0L964.2 167.8L965.5 170.7L966.8 173.5L968.1 176.4L969.4 179.2L970.6 182.0L971.7 184.9L972.9 187.7L973.8 190.6L975.0 193.4L976.1 196.2L977.2 199.1L978.6 201.9L979.9 204.8L981.4 207.6L982.9 210.4L984.3 213.3L985.8 216.1L987.2 219.0L988.5 221.9L990.1 224.8L991.8 227.7L993.3 230.9L994.7 234.0L996.1 237.1L997.6 239.8L998.8 242.4L1000.1 244.5L1002.7 248.8L1004.6 251.7L1005.7 253.6M931.8 49.1L933.5 50.3L935.7 52.0L938.4 53.9L941.4 55.8L944.4 58.1L947.4 60.4L950.0 62.7L952.1 64.8L954.2 66.8L956.2 69.1L958.1 71.3L960.3 73.5L962.2 75.9L964.0 78.4L965.9 80.9L967.7 83.5L969.5 86.3L971.3 89.2L973.2 91.9L975.0 94.9L976.5 97.8L978.0 100.8L979.5 103.7L980.9 106.5L982.1 109.3L983.5 112.1L984.7 114.9L985.7 117.8L986.6 120.7L987.6 123.5L988.5 126.4L989.8 129.6L990.9 132.8L992.0 136.0L992.7 139.3L993.6 142.6L994.6 145.8L995.4 149.1L996.4 152.4L997.2 155.8L998.2 159.3L999.0 162.7L999.6 166.0L1000.3 169.1L1001.1 171.8L1002.5 176.2L1003.8 180.1L1005.0 183.2L1005.7 185.5M977.3 49.1L978.4 50.8L980.3 53.0L982.4 55.6L984.8 58.4L986.9 61.6L989.0 64.6L990.8 67.3L992.7 70.4L994.4 73.6L996.1 76.7L997.5 79.8L998.8 82.8L1000.1 85.4L1001.7 89.1L1003.4 92.3L1004.8 94.9L1005.7 96.8M1003.4 340.0L999.0 343.5L998.0 346.6L997.1 350.3L998.8 353.8L1000.4 356.7L1004.1 359.3M1004.1 380.9L1000.6 380.8L996.4 381.5L993.2 383.9L990.8 386.5L991.0 390.4L992.3 394.4L994.9 398.0L997.8 401.2L1001.2 403.1L1004.1 403.6M1004.1 384.3L998.9 385.5L995.3 389.0L995.4 394.8L1000.0 398.7L1004.1 400.2M290.0 440.7L292.9 441.9L297.3 442.4L301.8 442.7L304.7 445.8L307.9 448.3L311.4 449.2L315.1 449.8L318.1 446.9L321.4 445.7L324.7 446.0L327.7 447.4L330.2 449.1L330.6 453.5L331.3 458.5L332.9 460.7L333.6 458.4L334.1 453.4L336.0 449.4L337.4 446.5L340.1 444.9L342.9 443.9L345.8 443.2L348.8 445.0L352.3 445.5L355.8 445.7L359.3 446.6L363.0 445.9L366.6 444.8L370.1 444.5L373.3 446.0L376.4 447.8L378.5 450.8L381.4 452.4L384.8 452.0L388.7 451.8L391.9 449.0L395.8 448.4L399.3 450.0L403.1 450.9L406.4 453.0L410.0 454.2L413.6 453.6L417.1 452.5L420.6 451.2L424.2 450.2L427.7 449.2L431.6 449.9L435.0 448.7L438.5 447.6L442.1 447.3L445.7 447.3L449.2 446.7L452.8 446.2L455.8 445.8L458.6 444.6L461.6 443.8L464.2 441.7L466.7 439.7L469.5 438.4L472.5 437.2L476.0 436.9L479.1 435.9L481.7 434.2L484.1 431.9L486.8 430.5L490.1 430.5L492.7 429.0L495.6 427.7L498.9 426.7L501.7 424.7L504.3 422.1L506.8 419.6L509.5 417.2L512.3 415.9L514.9 414.4L517.6 412.9L519.7 410.5L521.7 408.1L524.4 406.6L526.0 403.7L529.2 402.7L531.6 400.7L534.4 399.4L536.6 397.2L538.6 395.0L541.3 392.8L544.0 390.5L546.9 388.8L550.5 388.5L552.9 386.6L555.8 384.6L558.9 383.7L561.3 381.8L563.8 379.7L567.0 379.2L569.8 377.7L573.1 377.4L575.7 375.0L578.6 374.3L581.1 372.3L583.7 370.4L587.0 370.0L590.3 370.3L593.7 369.2L597.0 367.5L600.6 366.7L604.1 365.6L607.4 364.8L611.2 365.2L614.9 365.1L617.9 364.1L620.0 363.6M290.0 517.9L293.0 517.7L297.1 519.0L301.3 521.3L304.1 521.6L306.7 523.6L309.8 524.4L313.2 524.4L315.8 526.3L319.2 527.1L322.6 528.0L326.2 528.8L329.9 528.8L333.3 527.8L336.7 528.4L340.1 528.7L343.6 529.7L347.2 529.0L350.4 530.8L354.0 529.9L357.5 529.8L360.9 530.4L364.3 530.8L367.9 530.8L371.2 529.5L374.9 529.2L377.9 526.7L381.5 526.8L384.7 525.1L388.3 525.2L391.7 524.7L395.1 524.8L398.6 524.8L402.0 525.4L405.4 525.0L408.9 525.3L412.3 525.9L415.7 526.4L418.3 528.0L421.4 528.1L424.0 529.7L427.4 529.5L430.0 531.2L433.0 531.6L435.8 533.1L438.5 534.6L441.6 535.1L444.6 535.8L447.4 536.9L450.1 537.6L454.1 538.0L457.3 539.9L460.8 540.9L464.4 541.6L467.4 541.0L469.7 538.2L472.7 537.3L475.3 535.4L478.8 535.4L481.8 534.9L484.6 533.6L487.2 532.0L489.6 529.7L492.4 528.3L495.3 527.1L498.3 525.6L501.4 524.2L504.9 523.5L507.1 520.7L510.2 519.2L512.9 517.1L515.9 515.6L519.1 514.4L521.9 512.8L524.6 510.2L527.2 507.9L529.6 505.3L532.2 502.6L535.0 500.9L538.5 500.0L541.6 498.5L544.8 497.4L547.3 495.3L550.7 494.0L554.2 492.6L557.8 492.5L561.5 492.7L565.0 491.2L568.5 490.5L572.1 490.0L575.6 488.7L579.2 487.9L582.7 486.8L586.4 486.7L590.0 486.3L593.6 486.7L597.0 485.3L600.5 484.5L604.2 484.7L607.5 483.8L611.1 482.7L615.1 483.3L618.0 481.8L620.0 480.7M290.0 369.3L292.1 370.6L294.6 373.3L298.3 375.3L301.5 377.8L303.6 380.4L307.0 381.3L310.1 382.7L312.9 384.8L316.1 385.8L318.2 388.6L321.2 389.7L324.3 390.4L327.0 392.1L330.0 391.9L333.5 391.1L337.2 392.1L340.8 391.8L344.4 391.6L347.9 390.9L351.5 390.5L354.9 388.3L358.6 389.4L362.2 389.8L365.8 390.8L369.2 392.6L372.9 392.4L375.7 391.8L378.4 390.3L381.0 388.6L383.8 386.8L387.2 386.5L390.4 385.7L394.0 385.4L397.4 384.4L400.8 383.0L404.2 381.7L407.5 380.6L411.3 381.0L414.6 379.8L418.3 379.9L421.3 377.4L424.4 377.2L426.9 374.9L430.2 375.2L433.1 374.1L436.1 373.7L438.7 372.4L441.6 370.8L444.4 369.4L447.5 368.6L450.0 367.1L452.9 366.4L456.4 365.8L458.9 363.5L461.6 362.0L464.1 360.4L467.4 358.2L470.3 355.9L472.9 355.0M802.9 423.6L804.8 424.5L807.4 426.3L811.0 427.0L814.5 428.4L817.4 430.3L820.1 432.0L822.9 433.6L825.6 435.4L828.3 437.2L831.7 437.3L834.9 438.3L838.6 439.3L841.8 441.0L844.4 442.3L844.6 443.7L844.6 445.4L840.8 446.9L837.5 450.1L834.2 450.5L830.9 451.9L827.5 452.7L825.1 454.6L824.5 458.6L824.9 462.8L825.9 466.3L828.3 467.9L830.9 469.8L833.6 472.4L837.2 472.8L839.8 471.3L842.7 469.6L845.8 467.7L848.4 465.3L851.4 464.5L854.5 465.4L857.5 466.2L860.2 467.7L863.3 468.7L865.3 471.0L867.5 473.1L869.7 475.3L871.3 478.0L873.0 480.6L873.9 483.8L875.7 486.5L877.4 489.2L879.4 492.9L880.3 497.0L879.3 500.6L878.8 503.9L876.3 506.4L874.5 509.5L872.2 512.2L869.1 513.8L865.4 514.6L862.5 517.4L858.9 519.7L857.1 522.1M834.3 423.6L836.0 422.2L839.0 421.7L842.0 420.0L845.6 419.4L848.7 418.1L851.6 417.0L854.8 416.3L857.2 413.7L860.1 412.9L862.6 411.7L865.5 410.2L868.6 408.7L869.7 405.7L871.5 403.6L874.0 400.5L877.0 397.8L878.6 395.4L880.4 392.6L882.4 389.8L883.1 386.4L882.9 382.9L881.1 379.2L879.4 375.6L880.1 372.2L881.5 368.6L884.3 365.9L885.7 363.6M802.9 592.1L805.5 594.3L809.2 596.9L811.9 599.5L816.0 600.6L820.0 600.9L823.1 599.6L826.2 597.4L829.1 594.9L831.0 591.8L833.6 589.6L835.2 586.6L835.6 583.3L837.0 580.5L839.7 578.4L843.4 577.7L846.4 576.2L849.0 575.2L849.7 572.1L848.1 568.8L846.0 566.1L841.8 564.1L838.9 561.0L840.8 558.0L843.0 555.2L846.2 552.6L848.6 550.5L851.6 548.4L854.4 545.8L857.2 543.6L859.0 540.5L862.0 538.6L864.3 536.6L865.7 535.0M290.0 675.7L292.9 675.0L297.2 674.7L301.4 674.7L304.5 674.2L307.7 675.1L310.5 676.6L312.7 678.9L316.1 680.1L318.4 682.5L321.1 684.5L323.6 686.5L324.7 689.7L325.9 692.7L327.2 695.7L328.3 698.7L331.3 699.9L333.8 701.7L335.5 704.5L338.4 706.5L340.7 709.2L342.5 712.5L344.1 715.8L344.8 718.9L347.4 721.1L349.1 723.9L349.8 727.0L350.3 730.0L349.1 733.5L347.9 737.0L347.4 740.8L347.4 744.3L347.4 747.9L348.3 751.6L350.2 754.6L350.0 757.1M361.7 758.3L361.9 756.3L362.1 753.5L362.7 750.2L362.1 746.6L362.7 743.1L362.6 739.9L364.3 736.5L365.7 733.2L366.2 729.7L367.5 726.5L368.4 723.4L369.4 720.3L371.2 717.6L374.3 716.1L376.0 713.6L378.2 711.5L381.5 709.9L384.6 708.1L388.0 706.5L391.8 705.4L394.8 703.5L398.4 702.1L401.9 700.6L405.6 700.0L408.0 697.5L411.9 695.8L415.3 694.5L418.4 694.7L420.8 696.5L422.5 699.4L425.3 701.3L428.4 702.8L431.5 704.8L434.9 704.4L437.8 704.5L440.5 702.7L442.8 700.3L445.0 698.4L448.3 696.7L451.6 695.2L455.0 694.5L458.3 696.0L461.6 697.7L465.0 698.5L468.4 697.9L471.2 695.0L474.5 692.5L478.0 691.5L481.8 690.5L485.1 688.5L488.5 687.2L491.5 684.9L494.8 683.5L498.3 683.5L501.6 682.6L505.1 683.3L508.5 683.9L511.9 684.0L515.2 684.4L518.3 685.4L520.3 688.0L522.7 689.8L524.4 692.2L527.0 695.1L528.6 698.7L531.6 700.4L534.5 699.1L537.7 696.8L541.6 694.9L544.7 693.5L548.3 692.3L551.8 691.2L555.0 689.5L558.3 690.3L561.8 690.7L565.0 692.3L568.2 694.0L571.6 694.7L575.2 694.4L578.7 695.0L582.2 695.8L585.1 698.1L586.5 702.0L588.9 704.8L591.0 707.5L594.7 709.2L598.4 709.4L601.7 710.2L604.9 708.9L608.0 706.6L611.6 704.8L614.7 704.5L617.9 703.6L621.3 703.2L625.0 702.4L628.1 703.3L631.3 704.3L634.7 704.1L638.1 705.4L641.6 705.4L644.6 705.1L647.6 705.5L650.7 705.0L653.7 706.2L656.9 705.9L659.8 707.7L663.3 707.1L666.7 707.0L669.9 708.5L673.3 709.2L676.6 710.6L679.7 712.6L682.4 713.8L685.2 715.0L687.9 716.9L690.2 719.4L692.7 721.6L695.6 723.4L697.6 726.1L699.7 728.3L701.9 731.0L705.5 732.4L707.2 735.4L709.9 737.5L711.4 740.4L713.4 742.7L715.0 745.0L716.8 749.2L719.6 752.5L720.8 755.8L722.0 758.0M375.0 758.3L375.0 756.2L375.6 753.4L375.7 749.9L377.1 746.5L378.3 743.2L379.1 740.3L379.4 736.7L381.5 734.0L383.6 731.3L386.0 729.0L389.0 727.3L391.1 724.8L393.5 722.3L396.4 720.5L398.8 718.1L401.4 716.1L405.0 714.7L408.6 714.1L411.9 712.6L415.1 712.0L418.8 710.2L421.9 708.1L425.0 708.4L427.2 710.0L429.2 712.3L431.1 715.4L433.5 717.9L435.5 721.4L436.3 725.0L438.6 726.0L440.4 726.0L443.5 725.2L446.0 722.8L448.2 719.8L450.6 718.1L453.0 716.0L455.8 714.3L458.6 712.6L461.8 712.0L465.0 710.3L468.2 708.8L471.3 707.0L474.8 705.7L478.0 705.0L481.7 705.8L485.1 705.6L488.5 705.3L491.7 704.8L495.5 705.4L499.2 706.9L502.3 709.2L505.3 711.2L507.7 714.0L510.1 716.6L512.7 718.7L515.0 720.0L517.9 718.9L520.9 716.9L524.9 714.8L528.1 714.0L531.5 712.7L534.7 710.3L538.0 708.3L541.6 707.8L545.0 707.8L548.3 709.3L551.7 709.7L554.8 711.8L558.4 711.3L561.7 712.1L565.1 712.2L568.4 712.7L571.5 714.5L574.8 715.6L577.8 716.2L580.5 717.8L583.4 719.2L586.6 719.9L589.3 721.5L591.6 723.5L594.9 724.8L598.3 725.1L601.7 725.1L605.0 724.9L608.3 724.2L611.7 724.7L615.2 724.4L618.4 723.2L621.6 721.9L625.0 721.7L628.3 721.9L631.7 721.4L635.0 721.8L638.3 722.8L641.7 724.0L644.7 723.7L647.8 722.6L650.9 722.0L654.1 721.5L657.1 721.6L659.9 722.1L663.1 722.9L665.8 724.7L668.8 726.3L671.9 727.9L675.1 729.9L677.4 731.6L679.5 733.9L681.3 736.7L683.7 738.8L686.0 741.0L688.7 742.5L690.8 744.4L693.0 748.4L694.3 752.5L695.5 755.9L697.0 758.0M385.0 758.3L385.5 756.1L386.8 753.1L388.5 749.7L390.4 746.5L391.9 743.5L394.5 741.9L396.5 739.2L399.0 737.1L401.8 735.4L404.9 734.8L408.4 733.7L411.9 733.3L415.3 733.0L418.5 732.0L421.9 729.5L424.7 726.4L428.4 725.9L431.0 728.1L433.1 731.1L435.5 734.3L438.1 736.9L440.0 739.6L442.0 742.5L443.2 745.3L445.0 746.6L447.3 746.5L449.6 744.6L452.2 742.3L454.8 739.8L457.2 737.9L459.9 735.8L462.9 734.0L465.7 732.0L468.7 730.6L471.7 728.0L475.0 726.1L478.3 724.5L481.5 722.9L484.9 722.1L488.4 721.9L491.7 722.2L494.9 722.0L498.6 722.3L501.9 724.4L505.4 726.2L507.9 728.9L511.0 730.2L512.9 732.9L515.4 734.6L518.4 734.5L521.2 734.1L524.3 732.8L528.0 731.6L531.7 730.1L534.8 728.7L537.8 726.5L541.2 724.9L544.7 723.3L548.3 723.2L551.7 723.2L555.0 723.4L558.2 724.6L561.7 724.0L565.1 724.6L568.3 725.8L571.6 726.9L574.7 728.6L578.1 729.4L581.4 730.7L585.3 730.7L588.4 732.7L591.9 733.7L595.1 735.3L598.2 737.3L601.5 738.1L604.8 738.0L608.1 737.9L611.5 737.6L615.0 738.5L618.1 738.3L621.2 738.0L624.5 738.1L627.8 737.0L631.3 736.5L635.0 736.2L638.0 736.7L641.3 736.7L644.7 736.5L648.1 736.9L651.5 736.0L654.7 736.2L657.5 736.5L660.2 735.8L663.4 738.5L665.4 740.7L667.7 742.6L669.5 745.4L671.4 747.8L674.5 750.0L675.9 753.3L676.9 756.2L678.0 758.0M401.7 758.3L403.1 756.0L405.3 752.8L408.5 750.3L411.3 748.3L415.2 747.7L418.5 745.9L421.7 745.2L425.3 745.8L428.4 748.1L431.9 749.6L434.8 752.1L437.8 754.8L441.6 755.4L444.8 754.7L447.9 752.7L451.6 751.7L454.7 749.3L458.6 748.9L461.8 746.9L464.9 744.7L468.4 743.4L471.2 741.0L474.5 739.8L478.0 739.0L481.6 738.2L484.8 737.7L488.2 736.8L491.8 736.9L495.2 735.4L498.5 735.8L502.2 737.2L504.8 740.3L508.1 742.1L511.3 744.0L514.7 745.4L518.3 746.3L521.6 747.4L525.0 748.1L528.1 747.7L531.7 746.9L535.2 745.4L538.2 742.9L541.6 741.6L545.0 740.7L548.4 740.1L551.8 739.5L555.1 739.1L558.3 738.1L561.7 738.3L565.0 739.1L568.5 739.4L571.6 740.9L575.0 741.7L578.2 743.1L581.7 743.5L584.9 744.9L588.3 745.7L591.9 745.7L594.9 747.7L598.2 748.2L601.2 750.1L604.8 749.5L608.4 749.4L611.5 750.0L614.7 749.4L618.0 748.6L621.6 749.1L625.0 749.4L628.3 748.2L631.8 748.6L635.4 747.9L638.9 748.5L642.3 749.1L645.5 749.5L648.3 750.3L653.1 750.7L656.9 750.8L660.2 751.3L663.9 754.4L665.0 758.0M471.7 758.3L474.4 757.6L477.6 755.4L481.4 753.3L485.0 751.7L488.4 750.9L491.4 749.1L494.8 749.0L498.3 748.2L501.5 748.8L505.1 749.3L508.5 750.7L511.8 752.3L514.8 753.8L518.6 755.4L522.5 756.7L526.2 757.0L528.3 758.3M301.4 684.3L304.1 685.1L306.9 687.6L310.1 689.1L314.0 687.0L317.2 684.6L321.4 685.9L324.7 688.5L323.4 692.0L320.2 694.8L316.0 693.8L311.6 692.4L307.3 690.6L304.3 688.6M754.9 43.5L757.4 44.7L761.0 46.1L765.1 46.9L767.7 47.5L770.0 47.4L773.9 49.1L776.4 50.0L779.1 50.4L781.8 51.7L785.2 52.1L788.1 54.1L791.3 55.6L794.6 56.6L797.5 58.2L800.1 60.2L803.5 60.7L806.6 61.7L809.5 63.0L812.3 64.7L814.8 66.8L817.2 69.0L820.4 69.6L822.9 71.6L826.2 72.1L829.1 73.7L832.0 75.1L835.2 76.1L837.6 78.4L840.8 79.5L843.8 80.7L846.8 82.8L849.5 85.0L852.3 86.9L854.9 88.9L856.7 91.8L859.1 93.9L862.3 94.9L864.9 96.7L867.6 98.6L870.0 100.9L873.1 102.4L875.2 105.1L877.4 107.6L880.4 109.1L883.3 111.2L885.9 113.5L888.5 115.7L890.7 118.2L892.4 121.0L894.5 123.5L897.2 126.1L899.0 129.1L901.5 131.5L902.9 134.4L903.9 137.4L905.4 140.3L907.1 143.0L909.4 145.4L912.0 147.7L913.4 150.9L914.8 153.6L916.3 156.3L917.7 159.2L919.5 161.9L921.4 164.6L923.0 167.6L925.1 171.0L925.3 174.8L925.4 178.2L926.7 181.0L926.8 184.0L928.2 186.4L930.4 188.5L932.0 190.9L932.6 193.8L934.2 196.3L935.4 199.2L936.8 202.0L938.8 204.6L941.0 207.1L943.2 209.6L945.1 212.3L947.0 215.0L948.5 218.0L950.3 220.9L952.0 223.9L953.7 226.8L955.9 229.3L956.8 232.2L957.0 235.3L958.7 237.6L959.9 240.4L962.1 242.9L964.2 245.4L966.4 247.8L968.0 250.5L969.6 253.8L971.9 256.3L973.4 259.4L975.9 261.8L979.2 262.9L981.7 265.1L984.3 267.5L986.9 269.9L989.3 272.2L991.5 274.4L994.8 275.0L998.2 276.4L1001.0 279.4L1004.4 282.1L1006.2 286.4L1007.6 290.6L1008.9 294.5L1009.9 297.8L1010.6 300.0M754.4 45.1L757.2 45.2L760.6 47.4L764.4 48.9L767.3 49.6L769.5 50.2L773.6 50.2L776.1 50.7L778.7 51.4L781.3 53.0L784.5 54.0L787.1 56.5L790.7 56.9L793.9 58.2L797.1 59.0L799.8 60.9L802.9 61.8L805.5 63.7L808.3 65.4L810.9 67.3L814.0 68.3L817.1 69.1L819.9 70.6L822.8 71.9L825.6 73.3L828.0 75.9L831.0 77.2L834.0 78.4L837.0 79.7L840.2 80.4L843.0 82.1L845.7 84.4L848.3 86.6L850.7 89.0L853.9 90.1L856.3 92.3L858.9 94.1L861.5 95.9L864.1 97.8L866.0 100.7L869.2 102.1L871.6 104.4L874.9 105.6L877.7 107.3L880.0 109.5L882.5 112.1L884.7 114.8L886.6 117.6L889.0 119.8L891.8 121.6L893.8 124.0L896.1 126.9L897.7 130.0L898.7 133.2L900.9 135.6L902.3 138.5L904.6 140.8L906.6 143.3L909.1 145.6L910.6 148.6L912.1 151.7L913.3 154.5L914.5 157.4L916.6 159.8L918.5 162.5L920.7 165.0L921.1 168.4L921.9 172.0L922.7 175.4L923.7 178.6L925.7 181.3L926.8 184.0L927.0 187.0L927.9 189.7L928.8 192.6L930.6 194.9L931.9 197.7L934.7 199.6L935.7 202.7L937.6 205.4L939.7 208.0L941.6 210.7L942.9 213.8L944.8 216.5L947.4 218.8L949.8 221.3L951.2 224.4L951.8 227.8L953.7 230.3L953.9 233.5L956.2 235.7L958.0 238.0L959.9 240.4L960.6 243.8L962.2 246.7L964.4 249.2L966.4 251.6L968.3 254.8L970.4 257.5L973.5 259.3L975.3 262.5L977.1 265.2L979.8 267.3L982.5 269.7L985.3 272.0L988.7 273.1L991.3 274.6L993.9 276.7L996.8 278.7L999.6 281.0L1002.5 283.5L1004.2 287.3L1006.9 290.8L1007.7 294.9L1008.1 298.3L1009.0 300.4M753.9 46.7L756.2 48.2L760.2 48.6L764.0 50.2L767.1 50.7L769.5 50.7L773.1 52.1L775.2 53.2L777.9 53.6L780.6 55.0L783.7 55.9L787.0 56.8L790.0 58.6L793.1 60.2L796.1 61.4L799.0 62.6L802.0 63.6L804.7 65.5L807.7 66.6L810.5 68.0L813.3 69.6L815.9 71.5L818.9 72.7L821.7 74.2L825.0 74.7L827.8 76.4L830.6 77.9L833.4 79.7L836.3 81.0L839.1 82.4L841.8 84.0L844.7 85.9L847.7 87.4L850.1 89.8L852.6 91.8L854.9 94.0L857.0 96.6L860.3 97.5L863.1 99.2L865.6 101.3L868.2 103.4L870.8 105.5L873.2 107.9L875.7 109.7L878.1 111.7L880.8 113.9L883.5 116.0L886.0 118.2L888.1 120.7L889.5 123.6L891.9 125.5L894.1 128.3L896.1 131.0L898.2 133.5L900.1 136.1L901.1 139.3L902.8 142.0L904.2 144.9L906.6 147.2L908.9 149.7L910.4 152.8L912.4 155.1L913.8 157.8L914.5 161.1L916.1 163.8L918.7 166.0L920.5 168.6L921.0 172.2L921.7 175.6L922.7 178.8L923.3 182.0L923.7 185.1L924.8 187.9L927.3 190.0L928.5 192.7L929.6 195.5L931.2 198.1L932.4 201.1L934.4 203.6L936.2 206.4L938.7 208.7L940.9 211.2L942.3 214.2L944.1 217.0L945.7 219.9L947.5 222.7L949.2 225.5L951.2 228.1L952.2 231.0L953.7 233.6L954.8 236.4L956.0 239.2L957.5 242.0L959.1 244.9L961.9 247.0L963.6 249.8L964.9 252.7L966.7 255.9L968.9 258.7L970.8 261.7L973.7 264.0L976.7 265.6L979.6 267.6L982.2 270.1L984.3 273.3L987.2 275.2L989.6 277.5L992.7 279.0L995.9 280.2L999.2 281.5L1002.1 283.9L1003.4 287.7L1004.7 291.6L1005.2 295.5L1006.3 298.7L1007.3 300.9M753.3 48.3L755.8 49.4L759.4 51.2L763.3 52.3L766.7 52.3L769.3 51.9L772.8 53.3L775.0 53.7L777.2 55.4L779.7 57.3L782.7 58.3L786.4 58.3L789.7 59.2L792.8 60.7L795.4 62.9L798.5 63.7L801.1 65.5L804.0 66.7L807.1 67.8L809.8 69.4L812.9 70.4L815.5 72.4L817.9 74.6L820.7 76.2L823.9 77.1L826.8 78.5L830.0 79.3L832.7 81.0L835.8 82.0L838.2 84.0L840.6 85.9L843.2 88.0L846.4 89.3L849.3 90.8L852.0 92.5L854.3 94.8L856.6 97.0L858.4 100.0L861.2 101.7L864.2 103.3L867.3 104.6L869.9 106.7L872.7 108.5L874.8 111.0L877.3 112.7L879.7 115.2L882.6 117.0L885.3 118.9L886.8 121.9L889.4 123.7L890.4 126.8L892.4 129.5L895.0 131.7L896.7 134.5L898.1 137.4L899.8 140.1L901.9 142.7L903.1 145.7L904.8 148.4L907.2 150.8L909.1 153.6L910.9 156.0L912.8 158.5L913.7 161.6L915.3 164.3L916.2 167.2L918.4 169.5L919.5 172.7L921.2 175.8L921.2 179.2L921.4 182.5L922.4 185.6L923.4 188.6L924.8 191.3L926.9 193.5L928.5 196.1L929.8 198.9L931.2 201.9L932.9 204.6L934.5 207.5L936.7 210.0L938.7 212.7L940.7 215.3L942.9 217.8L944.1 221.0L945.4 224.0L947.3 226.6L948.4 229.5L950.8 231.7L951.7 234.6L953.8 236.9L954.8 239.9L955.6 243.1L958.1 245.5L959.5 248.6L961.5 251.3L963.5 253.7L966.0 256.5L968.1 259.3L970.1 262.3L972.3 265.5L975.4 267.1L978.3 269.1L980.7 272.0L983.7 274.0L986.7 275.9L989.1 278.4L992.1 280.0L994.7 282.1L998.0 282.9L1000.1 285.4L1001.8 288.4L1003.4 292.0L1004.2 295.8L1004.5 299.2L1005.7 301.4M752.8 49.9L755.2 51.4L758.8 52.8L763.0 53.4L766.4 54.2L768.9 54.5L772.3 55.2L774.5 55.2L776.7 56.6L779.1 58.8L782.5 59.0L785.5 60.6L789.0 61.1L791.9 62.7L794.7 64.5L797.4 65.8L800.2 67.2L803.1 68.5L806.0 69.9L809.0 71.1L812.0 72.2L814.7 73.9L817.3 75.8L820.2 77.2L823.3 78.4L826.1 79.9L829.5 80.4L832.1 82.2L834.7 84.1L837.1 86.0L839.9 87.0L842.6 88.9L845.1 91.0L848.3 92.0L850.4 94.6L853.3 96.0L855.1 99.0L858.1 100.4L860.4 102.9L863.2 104.7L866.3 106.1L869.0 108.0L871.2 110.4L873.3 112.8L876.1 114.1L878.5 116.6L881.6 118.1L883.8 120.4L886.3 122.4L888.1 124.8L889.3 127.7L891.7 130.1L893.5 132.7L895.7 135.1L896.8 138.2L899.2 140.5L901.0 143.2L901.9 146.5L903.4 149.4L905.4 152.0L907.6 154.6L909.5 156.9L911.0 159.6L912.8 162.1L913.4 165.3L914.8 168.0L915.9 170.5L917.3 173.4L918.5 176.4L919.7 179.5L920.2 182.8L920.6 186.2L921.8 189.2L923.9 191.7L924.6 194.8L927.2 196.8L928.5 199.7L930.0 202.6L931.8 205.3L933.0 208.6L935.0 211.2L936.9 213.9L939.3 216.3L941.6 218.8L942.9 221.8L943.9 225.0L945.7 227.5L947.0 230.2L949.6 232.2L950.4 235.2L952.3 237.7L953.6 240.6L954.7 243.7L956.5 246.5L958.7 249.2L960.8 251.8L962.9 254.2L965.0 257.2L966.4 260.7L969.0 263.2L971.4 266.3L974.2 268.4L976.8 270.9L980.1 272.7L982.8 275.3L985.7 277.4L988.4 279.6L991.2 281.7L994.4 282.7L996.4 284.9L998.9 286.3L1000.7 288.9L1001.6 292.6L1001.7 296.5L1002.9 299.7L1004.0 301.8M752.3 51.6L754.9 52.2L758.3 54.3L762.2 56.0L766.0 56.0L768.5 56.4L772.0 56.3L773.9 56.8L776.1 58.2L778.6 60.1L781.8 60.7L784.8 62.4L788.2 62.9L791.5 63.7L794.3 65.4L796.9 66.9L799.5 68.7L802.0 70.7L804.9 72.0L808.3 72.3L810.9 74.4L813.9 75.5L816.4 77.6L819.2 79.2L822.3 80.4L825.5 81.3L828.2 83.0L831.1 84.2L834.1 85.3L836.9 86.4L838.7 89.0L841.4 90.8L844.0 92.5L846.7 94.2L849.3 95.9L852.0 97.7L854.5 99.7L856.8 102.1L859.4 104.2L862.1 106.2L865.1 107.7L867.8 109.6L870.6 111.2L872.7 113.5L874.4 116.0L877.0 118.2L879.5 120.3L882.2 122.0L885.1 123.5L886.8 126.0L888.5 128.3L890.2 131.1L892.0 133.7L893.9 136.2L895.6 139.0L897.2 141.8L898.9 144.7L900.3 147.6L902.2 150.2L904.5 152.5L906.4 155.3L908.4 157.5L909.4 160.6L911.5 162.9L912.3 166.0L913.6 168.5L914.5 171.1L915.5 174.0L916.9 176.8L918.6 179.8L918.7 183.3L919.7 186.6L919.9 190.1L922.0 192.6L923.7 195.3L924.8 198.2L927.1 200.5L929.1 203.2L929.9 206.7L931.3 209.7L933.6 212.2L936.0 214.5L937.5 217.5L940.1 219.7L942.0 222.4L943.6 225.2L944.0 228.5L946.1 230.7L947.7 233.1L949.1 235.8L950.2 238.7L951.3 241.8L953.6 244.4L954.7 247.7L957.0 250.4L958.5 253.4L961.1 255.5L963.3 258.5L965.1 261.6L967.5 264.5L970.0 267.6L973.0 269.7L975.8 272.0L978.6 274.6L981.6 276.8L984.5 279.0L987.7 280.7L990.2 283.5L992.9 285.1L995.2 286.3L997.2 287.5L998.9 289.8L1000.4 293.0L1001.0 296.7L1001.7 300.0L1002.4 302.3M751.7 53.2L754.3 54.1L758.2 54.6L761.7 57.4L765.5 58.5L768.3 57.6L771.3 58.8L773.0 59.1L775.7 59.3L778.0 61.6L781.1 62.4L784.1 63.9L787.2 65.3L790.4 66.2L793.4 67.3L796.4 68.0L798.9 69.9L801.8 71.2L804.4 73.0L807.2 74.5L810.5 75.1L813.3 76.6L815.9 78.6L819.1 79.6L821.7 81.7L824.8 82.8L827.4 84.8L830.7 85.0L833.6 86.2L835.8 88.3L838.3 89.7L840.7 91.8L843.1 93.8L845.7 95.4L848.5 96.9L851.4 98.4L853.9 100.5L856.3 102.8L858.7 105.2L861.3 107.3L863.7 109.7L867.1 110.6L869.9 112.2L872.2 114.2L874.3 116.2L875.9 119.4L878.1 121.7L880.6 123.6L882.9 125.6L885.4 127.2L887.3 129.3L889.1 132.0L890.2 134.9L892.1 137.3L893.7 140.1L896.0 142.6L897.8 145.4L899.4 148.3L901.1 151.0L903.1 153.5L904.3 156.7L905.9 159.1L908.1 161.4L910.4 163.5L911.8 166.2L912.4 169.2L912.9 171.7L914.0 174.4L914.8 177.4L916.1 180.4L916.9 183.8L918.6 186.9L918.9 190.5L920.0 193.6L922.1 196.1L923.7 198.8L925.6 201.5L927.0 204.5L929.0 207.3L931.2 209.8L932.0 213.3L934.2 215.7L935.7 218.7L938.6 220.8L940.8 223.2L942.3 226.1L943.4 228.9L944.4 231.5L945.4 234.2L947.4 236.6L949.0 239.4L951.0 242.0L951.7 245.6L953.8 248.4L955.6 251.3L957.6 254.0L959.2 256.8L962.4 259.1L964.6 262.0L966.4 265.5L969.1 268.6L971.3 271.6L974.0 274.2L977.5 275.9L980.4 278.4L983.5 280.5L986.6 282.6L989.7 284.4L992.1 286.4L994.6 287.1L996.1 288.4L997.2 290.6L998.7 293.6L999.5 297.1L1000.2 300.4L1000.8 302.8M357.0 756.8L357.4 755.1L358.8 753.0L357.3 750.0L358.6 747.2L357.5 743.8L357.8 740.8L359.9 738.3L360.4 735.8L360.5 733.2L361.1 730.7L361.4 728.1L361.2 725.4L363.7 723.5L364.0 720.8L366.2 718.8L366.4 716.0L366.3 713.0L367.4 710.5L368.8 708.1L369.9 705.7L372.0 703.9L372.7 700.9L374.0 698.3L374.9 695.5L376.4 693.1L378.5 691.1L379.7 688.5L383.1 687.4L384.8 684.6L387.3 682.9L390.0 681.7L392.2 680.0L395.1 678.4L397.9 676.4L401.3 677.4L404.5 677.2L406.7 678.9L409.5 679.1L412.1 680.1L414.3 681.5L416.2 683.5L418.7 684.5L420.2 687.4L423.4 687.3L425.2 688.9L427.0 686.9L428.7 687.7L430.9 687.3L432.8 685.6L434.9 683.6L437.3 682.1L438.4 679.3L439.4 676.1L440.4 673.0L443.0 671.4L446.0 668.8L449.9 669.1L453.4 668.7L455.8 670.8L459.6 672.3L460.9 675.2L462.3 675.9L463.9 677.2L467.1 678.3L469.8 676.6L472.4 674.5L474.1 672.4L476.0 670.7L478.3 669.7L481.5 670.2L484.4 670.3L486.4 668.5L487.9 665.7L490.6 665.5L492.1 662.7L494.3 661.6L497.4 662.0L499.8 661.1L501.7 659.0L504.5 658.9L506.1 656.1L509.0 655.0L511.9 653.7L515.2 653.7L518.6 655.9L521.4 655.9L524.6 654.7L528.2 653.3L531.5 654.4L534.4 656.3L536.6 658.6L536.9 662.3L539.4 664.3L542.3 666.1L543.9 668.7L544.8 671.5L545.1 674.4L545.2 677.4L546.4 679.7L546.1 682.4L548.9 682.4L550.7 683.9L552.9 685.3L555.6 684.7L558.0 684.9L561.1 686.1L562.9 683.4L564.0 679.8L566.8 678.0L569.6 675.3L572.8 678.0L575.7 678.9L577.4 681.3L579.5 682.9L581.3 684.1L583.7 685.1L586.8 684.8L588.5 687.6L590.8 688.9L592.9 691.3L594.9 693.7L598.2 694.8L600.0 697.3L602.7 699.0L604.5 701.2L605.2 704.6L607.5 706.5L610.5 706.9L612.4 709.7L615.4 710.2L618.0 710.3L619.8 711.7L622.1 711.5L623.3 708.8L625.3 706.5L627.9 704.4L630.4 702.0L633.7 701.6L636.8 700.5L640.0 701.0L643.0 701.9L645.7 703.0L648.9 700.1L651.9 701.7L655.0 701.3L658.1 702.4L660.7 704.3L662.2 707.4L664.5 709.6L667.8 711.2L669.4 713.4L670.3 716.4L671.5 719.1L673.1 721.6L675.1 723.7L676.2 726.6L679.9 727.7L680.8 730.7L682.4 732.7L684.3 733.6L686.0 735.7L688.6 736.8L691.4 737.7L694.7 737.1L698.0 736.6L700.5 738.8L703.2 739.3L705.7 741.0L708.2 739.8L710.9 738.4L713.8 736.6L717.5 735.5L720.1 737.8L722.5 739.6L724.8 741.4L726.6 743.7L729.0 745.1L731.3 746.4L734.9 745.5L737.4 746.8L738.5 750.1L740.0 752.0L742.8 753.7L745.3 755.0L747.1 755.8M358.6 757.0L359.3 755.4L358.7 753.0L359.1 750.3L359.9 747.4L360.0 744.2L360.4 741.2L362.3 738.8L362.6 736.2L363.9 733.9L363.2 731.2L362.2 728.3L363.6 726.1L364.5 723.7L366.1 721.5L366.7 719.0L368.5 716.8L367.9 713.7L368.6 711.0L369.4 708.4L371.0 706.2L372.6 704.1L375.4 702.3L376.4 699.6L376.0 696.1L377.9 694.0L378.4 691.0L381.4 690.0L383.6 687.9L386.4 686.6L388.8 685.2L390.9 683.2L392.8 681.2L395.3 678.9L398.3 677.9L401.5 679.1L404.2 679.5L406.1 680.6L408.5 681.0L411.9 680.4L413.9 682.2L415.6 684.4L417.9 685.8L419.4 688.7L423.0 688.1L425.1 689.4L427.1 690.1L429.5 689.7L431.4 688.0L433.5 686.3L436.5 685.0L437.6 682.4L439.5 680.0L440.0 676.5L441.4 673.8L444.2 672.8L447.7 671.8L450.2 670.6L452.6 670.8L454.9 671.7L457.5 673.9L460.4 675.6L461.6 678.1L464.2 680.0L467.2 678.9L470.4 678.0L473.3 676.6L474.5 673.1L477.3 673.4L479.6 672.2L481.7 670.6L484.4 670.2L486.8 669.4L488.8 667.5L491.2 666.7L492.9 664.4L495.9 664.6L498.1 663.4L501.1 663.5L503.3 662.1L504.4 658.8L507.1 658.6L509.3 656.0L512.5 656.0L515.7 657.3L518.6 656.4L521.4 655.3L524.6 654.8L527.4 656.9L530.4 657.4L532.5 659.3L534.9 660.4L536.5 662.7L537.7 665.3L541.0 666.8L541.9 669.8L543.9 671.8L544.2 674.7L543.0 678.0L544.6 680.4L544.4 683.3L547.0 684.5L549.8 685.6L552.6 686.7L555.6 686.7L559.0 688.6L560.8 685.7L564.3 684.9L565.6 681.4L567.6 679.1L569.9 677.9L572.5 678.6L574.4 680.4L576.0 682.9L578.1 685.0L581.0 684.8L583.1 686.4L585.6 687.2L588.5 687.6L590.2 689.7L591.3 693.1L594.1 694.5L597.3 695.7L599.1 698.1L601.1 700.4L602.4 703.2L604.3 705.5L606.0 708.6L609.7 708.2L611.7 710.9L614.9 711.5L617.7 711.7L619.8 711.9L622.2 711.8L625.4 711.1L627.3 708.5L628.9 705.7L630.7 702.7L633.8 701.9L637.0 702.9L640.0 702.6L643.0 703.3L645.7 702.3L648.8 702.0L651.8 702.3L654.5 703.3L657.6 703.2L659.4 706.0L661.2 708.3L663.7 710.3L666.1 712.6L668.9 713.8L670.3 716.4L671.4 719.2L671.5 722.8L674.0 724.5L675.2 727.2L677.3 729.4L679.5 731.5L681.6 733.4L683.2 735.3L685.3 737.6L688.3 738.2L691.4 738.1L694.4 738.0L697.7 737.7L700.1 739.9L702.9 740.8L705.7 741.0L708.7 741.3L711.2 739.2L714.2 738.4L717.2 737.9L719.2 739.7L722.2 740.1L723.5 743.1L725.4 745.4L728.7 745.6L731.2 746.7L733.7 747.8L736.6 748.2L738.2 750.7L739.1 753.3L741.5 755.3L743.8 756.7L746.0 757.0M360.2 757.2L360.1 755.5L360.6 753.3L361.1 750.6L362.7 747.8L363.3 744.8L361.9 741.5L362.9 738.9L361.9 736.1L364.2 734.0L364.6 731.5L365.9 729.3L366.3 726.8L366.8 724.4L366.5 721.7L368.3 719.6L368.7 716.9L369.9 714.5L371.7 712.3L372.8 709.9L373.2 707.3L372.7 704.2L374.6 701.9L376.6 699.7L378.9 697.7L381.0 695.9L380.9 692.8L381.5 690.1L384.6 689.0L386.9 687.3L389.5 686.1L391.2 683.8L393.7 683.0L396.2 681.1L399.1 681.1L401.4 678.5L404.3 678.8L406.2 680.3L407.5 682.9L410.3 683.1L411.9 685.5L415.4 684.9L417.5 686.6L420.2 687.4L422.1 689.7L424.0 692.6L427.2 693.5L429.9 690.6L432.0 688.8L433.5 686.2L436.0 684.6L438.6 683.2L441.1 681.1L442.9 678.5L443.7 675.6L444.5 673.1L447.6 671.7L450.1 670.5L452.4 671.4L452.4 673.9L454.9 675.8L458.6 677.5L460.7 680.6L464.2 680.6L467.2 678.8L471.0 679.6L473.5 677.1L476.5 677.7L477.9 674.5L480.6 674.1L482.6 672.2L485.3 671.9L487.2 670.1L490.1 670.2L492.6 669.6L493.8 666.3L495.9 664.6L498.4 663.9L500.4 662.1L502.9 661.4L505.3 660.7L507.8 660.4L510.6 659.5L512.9 657.5L515.7 656.9L518.6 655.8L521.3 656.7L524.1 658.5L527.1 658.1L530.1 658.0L532.9 658.6L534.3 661.1L535.1 663.7L536.9 665.8L538.9 668.0L539.9 670.7L540.5 673.1L541.7 675.5L544.0 677.7L543.9 680.6L545.1 682.9L545.4 686.1L548.2 688.6L552.1 688.8L555.6 689.1L558.6 687.3L561.8 687.2L564.5 685.2L567.4 683.4L568.6 680.7L570.2 680.2L571.8 680.2L574.2 680.7L575.5 683.5L578.2 685.0L579.8 687.4L581.8 689.4L584.7 689.3L587.4 689.5L589.1 691.3L591.3 693.1L593.1 695.5L595.0 697.8L596.3 700.7L599.3 702.0L601.9 703.7L604.3 705.5L606.9 707.4L608.7 709.7L610.7 712.6L613.8 713.9L617.0 714.9L620.1 713.7L622.6 712.4L625.4 711.1L627.7 708.9L631.1 708.5L632.4 706.7L634.4 704.7L637.1 704.0L640.1 704.5L643.0 705.1L645.7 705.3L648.8 706.1L651.5 705.9L654.2 704.6L656.8 705.0L659.0 706.4L661.4 708.1L661.9 711.8L663.7 714.5L665.1 716.8L668.2 718.0L669.2 720.8L671.5 722.8L673.1 725.1L674.8 727.5L674.8 731.1L677.1 733.3L679.6 735.2L682.8 735.9L685.5 737.1L688.3 738.3L690.9 741.0L693.8 740.8L696.4 742.0L699.4 742.3L702.6 742.7L705.7 741.7L708.7 741.4L712.5 742.6L714.6 740.3L716.7 741.9L718.8 740.6L721.8 740.6L723.8 742.7L725.2 745.7L727.7 747.2L730.2 748.5L732.8 749.5L735.6 750.1L737.5 751.8L739.7 752.4L741.6 755.3L743.8 756.6L744.9 758.2M361.8 757.5L363.6 756.0L363.1 753.6L362.0 750.7L363.0 747.8L363.0 744.7L364.5 742.0L365.2 739.3L366.4 737.0L366.7 734.5L365.7 731.8L365.1 729.1L367.4 727.2L366.9 724.4L369.3 722.6L371.4 720.7L370.7 717.7L370.9 714.9L371.6 712.3L372.3 709.7L374.9 708.1L375.8 705.7L377.0 703.1L379.1 701.0L379.1 697.9L379.8 695.2L380.9 692.8L384.2 692.5L385.8 690.3L388.4 689.2L390.2 687.2L392.5 686.0L393.6 682.7L396.8 682.6L399.6 682.7L401.7 681.8L403.8 682.5L405.4 682.4L407.6 682.6L409.4 684.6L412.5 684.6L414.0 687.4L416.6 687.9L417.9 691.1L421.4 691.0L423.8 693.1L427.1 691.5L430.1 691.2L433.1 690.2L435.8 688.7L439.1 687.5L440.4 684.5L440.8 680.9L442.3 678.1L444.3 676.2L446.5 675.6L449.1 674.4L450.7 673.7L451.3 674.1L452.0 674.3L454.2 676.4L456.6 679.5L460.1 682.3L464.5 683.6L468.3 682.4L471.5 680.7L474.1 678.6L476.1 676.7L478.9 676.5L481.1 674.9L484.2 675.3L486.1 673.5L487.8 671.2L490.5 671.1L492.2 668.7L494.0 666.7L497.4 667.7L500.0 667.0L502.6 666.2L504.2 663.9L505.7 661.6L507.8 660.3L510.8 659.9L513.6 659.9L516.1 659.8L518.7 659.2L521.2 658.7L523.9 660.0L526.7 660.0L529.1 660.6L531.2 661.3L533.1 662.3L534.1 664.5L535.3 666.8L536.7 669.2L538.9 671.3L540.9 672.9L539.4 676.1L540.1 678.9L541.2 681.6L542.1 684.6L545.2 686.3L548.4 688.3L552.2 688.5L555.6 689.6L560.0 691.7L563.1 689.1L566.2 687.0L567.4 683.4L569.0 681.4L570.0 680.2L570.5 682.6L572.2 683.0L573.3 686.0L577.0 686.7L579.7 687.6L582.5 687.8L584.3 690.2L585.9 692.2L587.6 693.3L589.4 695.1L592.3 696.2L593.7 699.0L597.5 699.6L599.2 702.1L600.2 705.3L601.9 708.2L605.0 710.0L607.3 711.8L611.0 712.0L614.2 713.0L616.9 715.0L620.5 716.2L624.7 716.0L627.2 713.0L629.9 711.2L631.1 708.5L632.8 707.5L634.8 706.4L637.4 706.1L640.2 707.1L643.0 707.3L645.7 705.9L648.8 705.0L651.6 705.0L653.9 705.9L656.1 706.3L657.2 708.6L659.2 710.2L660.1 713.3L663.6 714.6L665.4 716.6L667.7 718.3L668.4 721.4L668.6 724.9L670.4 727.1L672.3 729.2L675.9 730.4L676.7 733.6L678.6 736.2L681.3 738.2L684.4 740.3L687.5 742.5L690.9 741.1L693.8 740.8L696.4 742.0L699.3 742.8L702.3 744.1L705.9 745.1L709.8 745.2L712.8 743.5L714.7 741.4L716.7 741.9L718.6 741.3L720.2 743.1L721.8 745.4L724.6 746.5L726.8 748.7L729.7 749.4L732.6 750.0L734.7 751.8L736.5 753.6L737.7 755.4L740.0 757.1L742.5 758.1L743.8 759.4M363.4 757.7L362.6 755.8L363.4 753.6L362.7 750.8L364.4 748.0L365.2 745.1L366.9 742.4L365.9 739.5L367.5 737.2L365.5 734.3L366.0 731.8L368.4 729.9L370.4 728.0L371.1 725.7L371.5 723.3L370.2 720.3L370.7 717.7L371.8 715.3L373.2 713.0L374.8 710.9L376.5 708.8L377.4 706.6L378.0 703.6L379.7 701.3L381.0 699.0L381.5 696.3L384.1 695.2L386.0 694.1L386.5 691.0L389.3 690.3L390.5 687.6L392.5 686.1L394.8 685.3L398.1 685.9L400.1 684.6L401.9 683.7L403.6 684.2L405.5 682.3L407.0 683.8L408.3 686.4L410.3 688.3L412.6 689.8L414.9 690.9L418.4 690.4L420.7 692.4L423.7 693.4L427.2 695.7L431.8 695.5L434.8 692.6L437.7 690.7L438.9 687.2L440.5 684.6L442.9 682.3L445.4 680.2L447.2 678.5L447.5 676.7L449.2 674.7L451.0 675.3L451.6 673.9L451.9 674.6L452.9 677.4L454.7 681.6L459.4 684.4L464.6 684.3L468.3 682.3L471.6 681.0L474.6 679.9L477.2 679.1L480.4 679.3L482.3 677.1L484.9 676.6L486.9 675.0L488.6 672.9L490.6 671.2L493.3 670.8L495.7 670.0L498.6 669.9L500.7 668.3L502.1 665.2L504.2 664.0L506.7 663.8L508.6 662.3L511.9 663.1L514.2 662.2L516.2 660.4L518.7 659.9L521.1 660.7L524.0 659.2L526.4 661.1L528.1 663.5L530.2 663.0L530.9 664.5L533.4 665.0L534.3 667.5L535.5 669.9L536.7 672.4L538.0 674.0L537.0 676.9L539.4 679.1L540.0 682.1L542.0 684.7L544.1 687.5L547.5 690.1L551.1 693.0L555.6 694.2L560.3 692.9L563.9 690.2L565.7 686.4L568.0 684.1L570.9 683.9L570.9 682.9L568.9 684.4L570.9 684.5L572.7 686.7L577.0 686.7L578.6 690.0L581.3 690.4L583.0 692.9L585.0 693.8L586.8 694.4L589.4 695.1L591.1 697.3L592.9 699.7L595.3 701.6L596.2 704.8L598.4 706.9L601.0 709.3L604.4 710.7L607.0 712.3L610.3 713.2L612.9 715.9L616.1 718.8L620.7 717.7L625.2 716.8L627.5 713.3L629.5 710.7L631.1 708.7L633.5 709.2L635.1 708.1L637.6 708.3L640.2 707.1L643.0 707.2L645.7 705.9L648.8 707.1L651.3 707.8L653.4 707.9L655.0 708.5L656.4 709.6L657.6 711.6L660.6 713.0L662.3 715.7L664.2 717.6L664.3 720.9L667.1 722.4L667.6 725.6L670.5 727.0L672.8 728.8L673.4 732.0L675.9 734.2L677.2 737.5L679.4 740.9L683.5 742.6L687.7 741.6L690.9 741.3L693.2 743.1L695.7 744.0L698.2 746.5L701.7 747.7L706.0 747.6L709.9 745.4L713.2 744.5L715.2 743.4L716.6 742.9L716.5 745.3L719.2 744.6L720.9 746.6L724.1 747.2L726.3 749.4L728.9 750.8L731.0 752.8L732.9 755.1L735.4 755.5L737.2 756.2L739.3 758.0L742.2 758.5L742.7 760.5" fill="none" stroke="#b2b2b2" stroke-width="0.8" stroke-linejoin="round"/>
<path d="M548.0 757.5L538.6 738.6L527.1 718.6L514.0 706.5L501.4 695.7L490.0 685.0L478.6 675.7L463.3 666.7L443.3 655.0L423.3 643.3L403.3 630.0L390.0 616.7L376.7 600.0L365.0 578.3L358.3 550.0L355.0 526.7L354.3 503.0L355.0 480.0L356.7 456.7L360.0 433.0L366.0 410.0L375.0 386.7L386.7 368.3L410.0 353.3L433.3 338.3L456.7 328.3L480.0 321.7L503.3 317.3L526.7 315.0L550.0 315.0L573.3 316.7L585.0 320.5L597.3 326.8L614.6 336.5L627.6 346.3L642.8 359.3L657.9 371.2L673.1 383.1L688.2 394.9L703.4 406.9L718.5 419.9L731.5 430.7L744.5 440.4L759.7 450.2L774.8 459.9L790.0 469.7L803.3 478.5L818.4 488.2L833.6 496.9L846.6 503.4L857.4 512.0L868.2 520.7L881.2 531.5L894.2 541.3L907.2 553.2L920.2 564.0L930.0 573.3L946.7 586.7L966.7 600.0L986.7 616.7L1006.0 632.5" fill="none" stroke="#0a0a0a" stroke-width="4.2" stroke-linejoin="round"/>
<path d="M472.9 149.3L464.9 149.3M467.3 148.6L464.9 149.3L467.3 150.0M548.6 148.4L543.7 148.4M545.2 148.0L543.7 148.4L545.2 148.8M492.9 167.3L487.1 168.4M488.8 167.6L487.1 168.4L489.0 168.6M566.6 167.3L570.0 156.4M569.8 160.1L570.0 156.4L568.0 159.5M584.3 185.0L598.0 162.1M595.7 170.4L598.0 162.1L591.8 168.1M603.7 202.1L622.0 171.3M618.9 182.4L622.0 171.3L613.7 179.3M510.0 185.0L507.7 183.6M508.5 183.8L507.7 183.6L508.3 184.2M529.4 203.6L532.9 195.9M532.4 198.5L532.9 195.9L531.1 198.0M455.7 205.0L448.6 206.4M450.7 205.4L448.6 206.4L450.9 206.6M547.7 221.6L559.1 202.7M557.2 209.5L559.1 202.7L554.0 207.6M474.3 221.6L467.1 218.7M469.6 219.0L467.1 218.7L469.1 220.2M566.6 239.3L583.7 210.7M580.8 221.0L583.7 210.7L576.0 218.1M585.7 256.4L604.3 224.4M601.2 235.9L604.3 224.4L595.9 232.8M492.9 239.3L489.4 229.3M491.3 232.1L489.4 229.3L489.7 232.7M511.4 257.9L516.3 237.0M516.5 243.9L516.3 237.0L513.0 243.1M529.4 275.9L544.9 245.0M542.7 255.9L544.9 245.0L537.5 253.3M548.6 293.6L570.0 259.3M566.2 271.7L570.0 259.3L560.5 268.1M603.7 275.9L621.4 247.0M618.4 257.4L621.4 247.0L613.5 254.5M432.3 267.9L437.1 259.3M436.4 262.3L437.1 259.3L434.9 261.5M474.3 295.0L489.4 281.6M485.9 287.0L489.4 281.6L483.6 284.5M494.3 312.1L520.9 289.3M514.5 298.6L520.9 289.3L510.7 294.1M566.6 312.1L588.6 282.7M584.2 293.7L588.6 282.7L579.3 290.0M420.0 295.0L427.7 309.3M424.1 305.5L427.7 309.3L426.5 304.2M382.9 295.0L387.7 319.3M384.2 312.2L387.7 319.3L388.2 311.4M347.1 302.1L348.0 319.9M346.3 314.4L348.0 319.9L349.2 314.3M310.0 295.0L310.0 322.1M307.7 313.7L310.0 322.1L312.3 313.7M328.6 331.6L347.1 353.6M339.5 348.3L347.1 353.6L343.2 345.2M365.7 331.6L388.6 353.6M379.6 348.7L388.6 353.6L383.3 344.8M401.4 331.6L430.0 347.3M419.8 344.8L430.0 347.3L422.5 340.0M438.6 331.6L471.4 332.7M461.1 335.1L471.4 332.7L461.3 329.6M457.1 349.3L501.4 339.3M488.5 346.1L501.4 339.3L486.9 338.7M511.4 330.7L548.6 301.6M539.5 313.7L548.6 301.6L534.6 307.5M530.0 349.3L566.6 323.6M557.4 334.6L566.6 323.6L553.1 328.5M585.7 330.7L600.9 315.0M597.5 321.1L600.9 315.0L594.8 318.6M622.9 147.9L622.9 116.4M625.5 126.2L622.9 116.4L620.2 126.2M640.6 166.4L647.1 138.7M647.4 147.9L647.1 138.7L642.8 146.8M694.9 148.4L689.4 147.9M691.2 147.6L689.4 147.9L691.1 148.5M658.6 185.0L666.3 170.1M665.1 175.4L666.3 170.1L662.7 174.1M713.7 167.3L706.6 177.0M708.0 173.4L706.6 177.0L709.6 174.6M622.3 220.7L641.4 195.0M637.6 204.6L641.4 195.0L633.3 201.4M681.4 206.4L677.1 203.6M678.7 204.1L677.1 203.6L678.2 204.8M640.6 239.3L654.3 228.4M650.9 232.9L654.3 228.4L649.1 230.6M694.9 221.6L693.7 240.7M692.5 234.7L693.7 240.7L695.7 234.9M750.0 222.1L737.7 233.6M740.6 229.0L737.7 233.6L742.5 231.1M713.7 239.9L705.1 267.9M705.5 258.5L705.1 267.9L710.1 259.9M732.0 239.9L720.0 262.1M721.9 254.2L720.0 262.1L725.6 256.2M768.6 258.7L754.3 260.1M758.6 258.5L754.3 260.1L758.8 260.9M786.6 275.9L775.7 268.4M779.7 269.8L775.7 268.4L778.5 271.6M805.1 275.9L794.3 260.7M798.9 264.5L794.3 260.7L796.4 266.3M823.4 275.9L812.0 257.9M817.0 262.5L812.0 257.9L814.0 264.4M658.6 258.4L662.9 267.3M660.8 264.9L662.9 267.3L662.3 264.2M676.6 276.4L672.9 305.0M671.6 295.8L672.9 305.0L676.4 296.5M622.3 293.6L630.0 286.4M628.2 289.3L630.0 286.4L627.0 288.0M694.9 295.0L688.6 333.0M687.3 320.7L688.6 333.0L693.7 321.7M750.0 295.0L744.9 309.3M745.3 304.4L744.9 309.3L747.6 305.3M640.6 313.0L640.6 324.4M639.6 320.9L640.6 324.4L641.5 320.9M713.7 313.0L712.0 347.3M709.7 336.5L712.0 347.3L715.4 336.8M732.0 313.0L732.0 337.9M729.9 330.2L732.0 337.9L734.1 330.2M768.6 330.7L780.0 332.7M776.3 333.1L780.0 332.7L776.6 331.1M842.3 330.7L847.1 313.6M847.1 319.3L847.1 313.6L844.2 318.5M787.1 349.3L803.7 343.6M799.1 346.7L803.7 343.6L798.1 344.0M805.1 349.3L820.0 339.3M816.2 343.6L820.0 339.3L814.6 341.1M823.4 349.3L836.6 335.0M833.7 340.5L836.6 335.0L831.3 338.3M658.6 330.7L656.0 363.6M654.0 353.2L656.0 363.6L659.5 353.6M677.1 349.3L678.6 373.6M676.1 366.2L678.6 373.6L680.2 365.9M311.4 367.9L335.1 385.0M326.4 381.7L335.1 385.0L329.2 377.7M347.1 367.9L375.7 383.6M365.5 381.1L375.7 383.6L368.2 376.3M388.6 367.9L422.9 381.6M411.1 380.2L422.9 381.6L413.4 374.5M421.4 367.3L464.9 371.3M451.1 373.7L464.9 371.3L451.7 366.4M475.7 367.9L520.9 349.9M508.4 359.2L520.9 349.9L505.4 351.7M548.6 367.9L572.9 356.4M566.3 362.0L572.9 356.4L564.4 357.9M494.3 385.6L532.9 369.3M522.3 377.6L532.9 369.3L519.5 371.1M329.4 404.1L348.6 412.1M342.0 411.3L348.6 412.1L343.3 408.1M365.7 404.1L394.3 411.6M384.8 411.7L394.3 411.6L386.1 406.9M402.9 404.1L437.1 407.9M426.2 409.6L437.1 407.9L426.8 403.8M438.6 404.1L476.6 398.4M465.3 403.4L476.6 398.4L464.3 397.0M512.3 404.1L537.1 395.9M530.1 400.5L537.1 395.9L528.7 396.3M566.6 385.0L580.0 386.4M575.7 387.1L580.0 386.4L576.0 384.9M457.1 422.1L481.4 415.0M474.5 419.2L481.4 415.0L473.3 415.2M530.9 422.1L538.6 425.0M535.9 424.8L538.6 425.0L536.4 423.5M585.7 405.0L587.7 415.6M586.2 412.5L587.7 415.6L588.0 412.1M603.4 423.6L602.0 435.6M601.4 431.7L602.0 435.6L603.4 432.0M548.6 439.9L544.3 451.6M544.6 447.6L544.3 451.6L546.6 448.3M347.7 439.9L353.4 440.7M351.6 440.9L353.4 440.7L351.7 440.0M384.3 439.9L394.3 441.3M391.1 441.7L394.3 441.3L391.3 440.0M421.4 439.9L432.9 438.7M429.4 440.0L432.9 438.7L429.2 438.1M475.7 439.9L482.0 436.4M480.3 438.0L482.0 436.4L479.8 437.0M494.3 458.4L483.7 459.9M486.9 458.5L483.7 459.9L487.1 460.3M567.1 458.4L556.3 470.7M558.6 466.0L556.3 470.7L560.7 467.8M330.0 477.3L315.1 473.0M320.1 473.1L315.1 473.0L319.4 475.6M367.1 477.3L352.9 476.4M357.4 475.5L352.9 476.4L357.2 477.9M402.9 477.3L388.6 477.0M393.0 475.9L388.6 477.0L393.0 478.3M440.0 477.3L422.0 477.0M427.6 475.6L422.0 477.0L427.6 478.6M512.3 477.3L490.9 481.6M497.1 478.4L490.9 481.6L497.9 482.0M585.7 477.3L575.1 483.6M577.9 480.7L575.1 483.6L578.9 482.5M603.7 495.0L595.1 495.6M597.8 494.7L595.1 495.6L597.8 496.1M458.0 495.0L430.0 496.4M438.6 493.6L430.0 496.4L438.8 498.3M530.9 495.0L505.7 499.3M513.1 495.9L505.7 499.3L513.9 500.1M312.3 513.0L291.4 510.1M298.1 509.3L291.4 510.1L297.7 512.8M338.6 513.0L325.7 511.6M329.8 510.9L325.7 511.6L329.6 513.1M385.7 513.0L358.6 515.0M366.8 512.1L358.6 515.0L367.2 516.7M422.0 513.0L391.4 516.4M400.6 512.8L391.4 516.4L401.2 517.9M475.7 513.0L448.6 514.1M456.9 511.5L448.6 514.1L457.1 516.1M549.4 513.0L527.1 513.0M534.1 511.1L527.1 513.0L534.1 514.9M494.3 531.3L464.3 530.7M473.6 528.4L464.3 530.7L473.5 533.4M567.1 531.3L549.4 526.4M555.3 526.5L549.4 526.4L554.5 529.4M585.7 549.3L571.4 540.7M576.6 542.2L571.4 540.7L575.1 544.6M330.6 549.9L312.9 549.9M318.3 548.4L312.9 549.9L318.3 551.3M367.1 549.9L346.6 553.6M352.6 550.7L346.6 553.6L353.3 554.1M404.3 549.9L380.9 555.9M387.6 552.0L380.9 555.9L388.6 556.0M440.0 549.9L416.3 555.0M423.2 551.4L416.3 555.0L424.1 555.4M512.3 549.9L491.4 545.0M498.3 544.8L491.4 545.0L497.5 548.3M603.7 567.9L591.4 557.9M596.1 559.9L591.4 557.9L594.4 562.0M458.6 567.9L445.7 570.7M449.5 568.8L445.7 570.7L449.9 570.9M530.9 567.9L518.6 560.7M523.0 561.9L518.6 560.7L521.8 564.0M312.9 586.4L307.1 585.9M309.0 585.6L307.1 585.9L308.9 586.5M348.6 586.4L343.7 588.7M345.0 587.6L343.7 588.7L345.4 588.4M385.7 586.4L382.0 592.1M382.7 590.1L382.0 592.1L383.6 590.7M422.0 586.4L420.9 592.1M420.7 590.3L420.9 592.1L421.7 590.5M549.4 586.4L542.9 577.3M545.7 579.6L542.9 577.3L544.1 580.7M620.0 583.6L608.6 576.4M612.7 577.7L608.6 576.4L611.5 579.6M567.1 603.6L564.3 597.9M565.6 599.4L564.3 597.9L564.7 599.9M504.3 603.6L495.7 604.1M498.3 603.2L495.7 604.1L498.4 604.7M622.3 367.9L622.9 380.7M621.6 376.8L622.9 380.7L623.8 376.7M640.6 385.9L640.6 402.1M639.2 397.1L640.6 402.1L641.9 397.1M658.6 405.0L664.3 419.3M661.3 415.3L664.3 419.3L663.7 414.4M694.9 367.9L705.7 392.1M700.3 385.5L705.7 392.1L704.4 383.7M713.7 385.9L732.0 402.1M725.0 398.6L732.0 402.1L727.7 395.6M732.0 385.9L754.3 398.7M746.3 396.6L754.3 398.7L748.5 392.9M750.0 367.9L773.4 376.4M765.4 375.7L773.4 376.4L766.9 371.8M768.6 404.1L783.4 407.9M778.5 407.9L783.4 407.9L779.1 405.5M676.6 422.1L688.0 431.6M683.7 429.6L688.0 431.6L685.2 427.7M694.9 439.9L706.6 447.9M702.3 446.4L706.6 447.9L703.6 444.4M712.9 458.4L722.9 467.9M719.0 465.8L722.9 467.9L720.5 464.1M731.4 458.4L740.6 470.7M736.7 467.7L740.6 470.7L738.8 466.1M750.0 439.9L754.3 444.1M752.6 443.2L754.3 444.1L753.3 442.5M786.6 422.1L798.6 428.7M794.3 427.7L798.6 428.7L795.4 425.7M805.1 422.1L814.3 425.0M811.2 424.9L814.3 425.0L811.7 423.3M822.9 422.1L829.1 423.0M827.1 423.3L829.1 423.0L827.3 422.2M841.4 403.6L848.6 399.3M846.7 401.2L848.6 399.3L846.0 400.0M860.0 366.4L868.0 355.0M866.5 359.2L868.0 355.0L864.6 357.9M878.6 385.9L882.9 375.0M882.4 378.7L882.9 375.0L880.6 378.0M896.6 385.9L897.1 375.0M897.9 378.4L897.1 375.0L896.1 378.3M914.3 366.4L914.3 355.0M915.2 358.5L914.3 355.0L913.3 358.5M926.3 397.3L932.9 405.0M930.2 403.2L932.9 405.0L931.5 402.1M908.0 438.4L914.3 440.7M912.1 440.5L914.3 440.7L912.5 439.5M891.4 459.3L896.6 458.4M895.0 459.1L896.6 458.4L894.9 458.3M875.1 459.3L877.7 458.4M877.0 458.9L877.7 458.4L876.8 458.5M924.3 479.3L931.4 477.3M929.4 478.5L931.4 477.3L929.0 477.3M841.4 477.3L843.4 483.6M842.3 481.8L843.4 483.6L843.3 481.5M768.0 477.3L773.7 491.6M770.7 487.6L773.7 491.6L773.1 486.7M785.7 495.0L791.4 507.0M788.7 503.8L791.4 507.0L790.7 502.8M804.3 495.0L810.0 506.4M807.3 503.4L810.0 506.4L809.2 502.4M822.9 495.0L827.7 503.6M825.5 501.3L827.7 503.6L826.9 500.5M749.1 513.6L754.3 525.9M751.7 522.5L754.3 525.9L753.7 521.6M731.4 532.1L733.7 540.1M732.3 537.9L733.7 540.1L733.7 537.5M712.9 532.1L712.9 537.9M712.4 536.1L712.9 537.9L713.3 536.1M912.9 513.6L910.9 522.1M910.8 519.3L910.9 522.1L912.2 519.7M875.7 532.1L880.6 542.1M878.2 539.4L880.6 542.1L879.9 538.6M894.3 532.1L895.7 540.7M894.6 538.2L895.7 540.7L896.0 537.9M767.1 550.7L775.7 560.7M772.2 558.3L775.7 560.7L773.9 556.9M785.7 567.9L792.3 576.4M789.5 574.3L792.3 576.4L791.0 573.2M804.3 567.9L812.0 578.4M808.7 575.8L812.0 578.4L810.5 574.5M640.6 459.3L642.3 461.3M641.6 460.8L642.3 461.3L641.9 460.5M658.6 477.3L660.0 477.3M659.6 477.4L660.0 477.3L659.6 477.2M640.0 530.7L632.9 525.0M635.5 526.2L632.9 525.0L634.6 527.4M658.6 549.3L648.6 542.1M652.3 543.5L648.6 542.1L651.1 545.2M676.6 567.9L665.7 560.7M669.7 562.0L665.7 560.7L668.5 563.8M694.9 585.9L682.9 579.3M687.1 580.3L682.9 579.3L686.0 582.3M712.9 603.6L701.4 597.3M705.5 598.3L701.4 597.3L704.4 600.2M635.7 603.6L625.7 596.4M629.4 597.8L625.7 596.4L628.2 599.5M731.4 603.6L720.0 597.9M724.0 598.7L720.0 597.9L723.1 600.6M622.3 440.7L621.4 449.3M621.0 446.6L621.4 449.3L622.4 446.7M332.3 622.9L337.1 622.0M335.7 622.7L337.1 622.0L335.6 621.9M368.6 622.9L381.4 622.3M377.5 623.5L381.4 622.3L377.4 621.4M404.3 623.7L422.9 624.3M417.1 625.7L422.9 624.3L417.1 622.6M441.4 623.7L463.7 625.1M456.7 626.6L463.7 625.1L456.9 622.8M495.1 604.3L505.7 603.4M502.5 604.6L505.7 603.4L502.4 602.8M512.9 623.7L529.4 624.3M524.2 625.5L529.4 624.3L524.3 622.7M460.0 641.4L488.6 644.3M479.5 645.8L488.6 644.3L480.0 641.0M531.4 641.4L548.6 646.6M542.8 646.4L548.6 646.6L543.7 643.5M315.1 659.4L332.3 653.4M327.5 656.7L332.3 653.4L326.5 653.9M351.4 659.4L372.9 652.3M366.8 656.3L372.9 652.3L365.6 652.7M387.7 659.4L414.3 653.4M406.6 657.5L414.3 653.4L405.5 653.1M422.9 659.4L454.3 657.7M444.7 660.9L454.3 657.7L444.4 655.6M477.7 659.4L506.6 666.6M497.0 666.8L506.6 666.6L498.2 661.9M549.4 659.4L563.7 670.9M558.3 668.5L563.7 670.9L560.2 666.1M564.3 598.6L567.7 604.9M566.1 603.2L567.7 604.9L567.2 602.6M581.4 620.0L585.7 623.7M584.1 622.9L585.7 623.7L584.7 622.2M598.6 642.9L603.4 641.4M602.0 642.3L603.4 641.4L601.8 641.5M615.7 662.9L620.0 660.9M618.8 661.8L620.0 660.9L618.5 661.1M639.4 604.3L625.7 596.3M630.6 597.6L625.7 596.3L629.3 599.9M712.9 604.3L700.0 596.3M704.7 597.7L700.0 596.3L703.3 599.8M730.0 604.3L720.0 598.6M723.6 599.5L720.0 598.6L722.6 601.2M657.1 623.7L642.9 615.1M648.0 616.6L642.9 615.1L646.6 619.0M675.7 641.4L659.4 632.9M665.2 634.2L659.4 632.9L663.8 636.9M693.7 659.4L677.1 650.6M683.0 651.9L677.1 650.6L681.5 654.7M748.6 659.4L728.0 652.3M735.0 652.8L728.0 652.3L733.8 656.2M766.6 623.7L754.3 621.4M758.3 621.1L754.3 621.4L757.9 623.2M783.4 641.4L769.1 642.3M773.5 640.8L769.1 642.3L773.6 643.2M802.0 641.4L788.6 646.6M792.3 643.9L788.6 646.6L793.2 646.1" fill="none" stroke="#121212" stroke-width="1.15" stroke-linejoin="miter"/><path d="M895.7 736.5L931.0 737.0M920.0 739.8L931.0 737.0L920.1 733.9" fill="none" stroke="#555" stroke-width="1"/>
<polygon points="466.2,187.6 462.6,191.2 457.4,191.2 453.8,187.6 453.8,182.4 457.4,178.8 462.6,178.8 466.2,182.4" fill="#050505"/>
<polygon points="577.2,187.6 573.6,191.2 568.4,191.2 564.8,187.6 564.8,182.4 568.4,178.8 573.6,178.8 577.2,182.4" fill="#050505"/>
<polygon points="686.9,188.9 683.3,192.5 678.1,192.5 674.5,188.9 674.5,183.7 678.1,180.1 683.3,180.1 686.9,183.7" fill="#050505"/>
<polygon points="352.9,296.9 349.3,300.5 344.1,300.5 340.5,296.9 340.5,291.7 344.1,288.1 349.3,288.1 352.9,291.7" fill="#050505"/>
<polygon points="464.5,296.9 460.9,300.5 455.7,300.5 452.1,296.9 452.1,291.7 455.7,288.1 460.9,288.1 464.5,291.7" fill="#050505"/>
<polygon points="574.5,296.9 570.9,300.5 565.7,300.5 562.1,296.9 562.1,291.7 565.7,288.1 570.9,288.1 574.5,291.7" fill="#050505"/>
<polygon points="684.5,297.6 680.9,301.2 675.7,301.2 672.1,297.6 672.1,292.4 675.7,288.8 680.9,288.8 684.5,292.4" fill="#050505"/>
<polygon points="795.5,296.9 791.9,300.5 786.7,300.5 783.1,296.9 783.1,291.7 786.7,288.1 791.9,288.1 795.5,291.7" fill="#050505"/>
<polygon points="352.9,405.9 349.3,409.5 344.1,409.5 340.5,405.9 340.5,400.7 344.1,397.1 349.3,397.1 352.9,400.7" fill="#050505"/>
<polygon points="572.9,405.9 569.3,409.5 564.1,409.5 560.5,405.9 560.5,400.7 564.1,397.1 569.3,397.1 572.9,400.7" fill="#050505"/>
<polygon points="682.9,406.1 679.3,409.7 674.1,409.7 670.5,406.1 670.5,400.9 674.1,397.3 679.3,397.3 682.9,400.9" fill="#050505"/>
<polygon points="791.9,406.1 788.3,409.7 783.1,409.7 779.5,406.1 779.5,400.9 783.1,397.3 788.3,397.3 791.9,400.9" fill="#050505"/>
<polygon points="901.2,406.1 897.6,409.7 892.4,409.7 888.8,406.1 888.8,400.9 892.4,397.3 897.6,397.3 901.2,400.9" fill="#050505"/>
<polygon points="351.2,515.9 347.6,519.5 342.4,519.5 338.8,515.9 338.8,510.7 342.4,507.1 347.6,507.1 351.2,510.7" fill="#050505"/>
<polygon points="460.2,515.9 456.6,519.5 451.4,519.5 447.8,515.9 447.8,510.7 451.4,507.1 456.6,507.1 460.2,510.7" fill="#050505"/>
<polygon points="570.2,515.9 566.6,519.5 561.4,519.5 557.8,515.9 557.8,510.7 561.4,507.1 566.6,507.1 570.2,510.7" fill="#050505"/>
<polygon points="680.2,515.9 676.6,519.5 671.4,519.5 667.8,515.9 667.8,510.7 671.4,507.1 676.6,507.1 680.2,510.7" fill="#050505"/>
<polygon points="787.9,515.9 784.3,519.5 779.1,519.5 775.5,515.9 775.5,510.7 779.1,507.1 784.3,507.1 787.9,510.7" fill="#050505"/>
<polygon points="897.9,515.9 894.3,519.5 889.1,519.5 885.5,515.9 885.5,510.7 889.1,507.1 894.3,507.1 897.9,510.7" fill="#050505"/>
<polygon points="350.2,625.3 346.6,628.9 341.4,628.9 337.8,625.3 337.8,620.1 341.4,616.5 346.6,616.5 350.2,620.1" fill="#050505"/>
<polygon points="459.5,625.9 455.9,629.5 450.7,629.5 447.1,625.9 447.1,620.7 450.7,617.1 455.9,617.1 459.5,620.7" fill="#050505"/>
<polygon points="568.5,625.9 564.9,629.5 559.7,629.5 556.1,625.9 556.1,620.7 559.7,617.1 564.9,617.1 568.5,620.7" fill="#050505"/>
<polygon points="676.2,625.6 672.6,629.2 667.4,629.2 663.8,625.6 663.8,620.4 667.4,616.8 672.6,616.8 676.2,620.4" fill="#050505"/>
<polygon points="786.2,625.9 782.6,629.5 777.4,629.5 773.8,625.9 773.8,620.7 777.4,617.1 782.6,617.1 786.2,620.7" fill="#050505"/>
<text transform="translate(359.5 250) rotate(-45.5)" font-size="17.8" letter-spacing="0.3" fill="#5a5a5a">2500</text>
</g>
<rect x="275.5" y="47.5" width="729.0" height="709.5" fill="none" stroke="#333" stroke-width="1.2"/>
<path d="M457.75 757.0v-7M457.75 47.5v7" stroke="#333" stroke-width="1.1"/>
<path d="M640.0 757.0v-7M640.0 47.5v7" stroke="#333" stroke-width="1.1"/>
<path d="M822.25 757.0v-7M822.25 47.5v7" stroke="#333" stroke-width="1.1"/>
<path d="M275.5 250.21428571428572h7M1004.5 250.21428571428572h-7" stroke="#333" stroke-width="1.1"/>
<path d="M275.5 452.92857142857144h7M1004.5 452.92857142857144h-7" stroke="#333" stroke-width="1.1"/>
<path d="M275.5 655.6428571428571h7M1004.5 655.6428571428571h-7" stroke="#333" stroke-width="1.1"/>
<text x="265" y="61.1" font-size="32" text-anchor="end" fill="#1a1a1a">28<tspan font-size="16" dy="-25" dx="2.2">o</tspan><tspan dy="25" dx="1.2" font-size="32.5">N</tspan></text>
<text x="265" y="263.81428571428575" font-size="32" text-anchor="end" fill="#1a1a1a">27<tspan font-size="16" dy="-25" dx="2.2">o</tspan><tspan dy="25" dx="1.2" font-size="32.5">N</tspan></text>
<text x="265" y="466.52857142857147" font-size="32" text-anchor="end" fill="#1a1a1a">26<tspan font-size="16" dy="-25" dx="2.2">o</tspan><tspan dy="25" dx="1.2" font-size="32.5">N</tspan></text>
<text x="265" y="669.2428571428571" font-size="32" text-anchor="end" fill="#1a1a1a">25<tspan font-size="16" dy="-25" dx="2.2">o</tspan><tspan dy="25" dx="1.2" font-size="32.5">N</tspan></text>
<text x="275.5" y="801.6" font-size="32" text-anchor="middle" fill="#1a1a1a">89<tspan font-size="16" dy="-25" dx="2.2">o</tspan><tspan dy="25" dx="1.2" font-size="32.5">W</tspan></text>
<text x="457.75" y="801.6" font-size="32" text-anchor="middle" fill="#1a1a1a">88<tspan font-size="16" dy="-25" dx="2.2">o</tspan><tspan dy="25" dx="1.2" font-size="32.5">W</tspan></text>
<text x="640.0" y="801.6" font-size="32" text-anchor="middle" fill="#1a1a1a">87<tspan font-size="16" dy="-25" dx="2.2">o</tspan><tspan dy="25" dx="1.2" font-size="32.5">W</tspan></text>
<text x="822.25" y="801.6" font-size="32" text-anchor="middle" fill="#1a1a1a">86<tspan font-size="16" dy="-25" dx="2.2">o</tspan><tspan dy="25" dx="1.2" font-size="32.5">W</tspan></text>
<text x="1004.5" y="801.6" font-size="32" text-anchor="middle" fill="#1a1a1a">85<tspan font-size="16" dy="-25" dx="2.2">o</tspan><tspan dy="25" dx="1.2" font-size="32.5">W</tspan></text>
<text x="890.5" y="720.3" font-size="28.3" fill="#111">5 cm s<tspan font-size="19.5" dy="-13.4" dx="2">-1</tspan></text>
<rect x="273.90" y="834.4" width="91.81" height="31.5" fill="#ffffff"/>
<rect x="365.41" y="834.4" width="91.81" height="31.5" fill="#ffffff"/>
<rect x="456.92" y="834.4" width="91.81" height="31.5" fill="#bfe6e8"/>
<rect x="548.44" y="834.4" width="91.81" height="31.5" fill="#fbe391"/>
<rect x="639.95" y="834.4" width="91.81" height="31.5" fill="#fdc554"/>
<rect x="731.46" y="834.4" width="91.81" height="31.5" fill="#f7962c"/>
<rect x="822.98" y="834.4" width="91.81" height="31.5" fill="#db6127"/>
<rect x="914.49" y="834.4" width="91.81" height="31.5" fill="#973421"/>
<rect x="273.9" y="834.4" width="732.1" height="31.5" fill="none" stroke="#333" stroke-width="1.2"/>
<path d="M273.90 865.9v7.5" stroke="#333" stroke-width="1.1"/>
<text x="273.90" y="911.2" font-size="28.8" text-anchor="middle" fill="#1a1a1a">0</text>
<path d="M365.41 865.9v7.5" stroke="#333" stroke-width="1.1"/>
<text x="365.41" y="911.2" font-size="28.8" text-anchor="middle" fill="#1a1a1a">20</text>
<path d="M456.92 865.9v7.5" stroke="#333" stroke-width="1.1"/>
<text x="456.92" y="911.2" font-size="28.8" text-anchor="middle" fill="#1a1a1a">40</text>
<path d="M548.44 865.9v7.5" stroke="#333" stroke-width="1.1"/>
<text x="548.44" y="911.2" font-size="28.8" text-anchor="middle" fill="#1a1a1a">60</text>
<path d="M639.95 865.9v7.5" stroke="#333" stroke-width="1.1"/>
<text x="639.95" y="911.2" font-size="28.8" text-anchor="middle" fill="#1a1a1a">80</text>
<path d="M731.46 865.9v7.5" stroke="#333" stroke-width="1.1"/>
<text x="731.46" y="911.2" font-size="28.8" text-anchor="middle" fill="#1a1a1a">100</text>
<path d="M822.98 865.9v7.5" stroke="#333" stroke-width="1.1"/>
<text x="822.98" y="911.2" font-size="28.8" text-anchor="middle" fill="#1a1a1a">120</text>
<path d="M914.49 865.9v7.5" stroke="#333" stroke-width="1.1"/>
<text x="914.49" y="911.2" font-size="28.8" text-anchor="middle" fill="#1a1a1a">140</text>
<path d="M1006.00 865.9v7.5" stroke="#333" stroke-width="1.1"/>
<text x="1006.00" y="911.2" font-size="28.8" text-anchor="middle" fill="#1a1a1a">160</text>
<text x="640" y="959.2" font-size="32.5" text-anchor="middle" fill="#1a1a1a">Time Averaged EKE [cm<tspan font-size="22.5" dy="-15.5">2</tspan><tspan dy="15.5"> s</tspan><tspan font-size="22.5" dy="-15.5">-2</tspan><tspan dy="15.5">]</tspan></text>
<g>
<rect x="147.00" y="1027" width="144.30" height="252.5" fill="#e5e5e6"/>
<rect x="426.10" y="1027" width="222.40" height="252.5" fill="#e5e5e6"/>
<rect x="962.36" y="1027" width="190.14" height="252.5" fill="#e5e5e6"/>
<rect x="147.0" y="1027" width="1005.5" height="252.5" fill="none" stroke="#444" stroke-width="1.2"/>
<path d="M156.50 1279.5v-9M156.50 1027v9" stroke="#444" stroke-width="1.1"/>
<text x="156.50" y="1314.0" font-size="26" letter-spacing="0.4" text-anchor="middle" fill="#1a1a1a">07/19</text>
<path d="M291.30 1279.5v-9M291.30 1027v9" stroke="#444" stroke-width="1.1"/>
<text x="291.30" y="1314.0" font-size="26" letter-spacing="0.4" text-anchor="middle" fill="#1a1a1a">10/19</text>
<path d="M426.10 1279.5v-9M426.10 1027v9" stroke="#444" stroke-width="1.1"/>
<text x="426.10" y="1314.0" font-size="26" letter-spacing="0.4" text-anchor="middle" fill="#1a1a1a">01/20</text>
<path d="M559.43 1279.5v-9M559.43 1027v9" stroke="#444" stroke-width="1.1"/>
<text x="559.43" y="1314.0" font-size="26" letter-spacing="0.4" text-anchor="middle" fill="#1a1a1a">04/20</text>
<path d="M692.76 1279.5v-9M692.76 1027v9" stroke="#444" stroke-width="1.1"/>
<text x="692.76" y="1314.0" font-size="26" letter-spacing="0.4" text-anchor="middle" fill="#1a1a1a">07/20</text>
<path d="M827.56 1279.5v-9M827.56 1027v9" stroke="#444" stroke-width="1.1"/>
<text x="827.56" y="1314.0" font-size="26" letter-spacing="0.4" text-anchor="middle" fill="#1a1a1a">10/20</text>
<path d="M962.36 1279.5v-9M962.36 1027v9" stroke="#444" stroke-width="1.1"/>
<text x="962.36" y="1314.0" font-size="26" letter-spacing="0.4" text-anchor="middle" fill="#1a1a1a">01/21</text>
<path d="M1094.23 1279.5v-9M1094.23 1027v9" stroke="#444" stroke-width="1.1"/>
<text x="1094.23" y="1314.0" font-size="26" letter-spacing="0.4" text-anchor="middle" fill="#1a1a1a">04/21</text>
<text x="134.5" y="1288.50" font-size="25.5" text-anchor="end" fill="#1a1a1a">0</text>
<path d="M147.0 1153.25h9M1152.5 1153.25h-9" stroke="#444" stroke-width="1.1"/>
<text x="134.5" y="1162.25" font-size="25.5" text-anchor="end" fill="#1a1a1a">200</text>
<text x="134.5" y="1036.00" font-size="25.5" text-anchor="end" fill="#1a1a1a">400</text>
<text x="156.8" y="1056.5" font-size="28.3" fill="#111">Sverdrup</text>
<text x="431.5" y="1056.5" font-size="28.3" fill="#111">Thor</text>
<text x="967.5" y="1056.5" font-size="28.3" fill="#111">Ursa</text>
<path d="M146.7 1127.3L148.3 1153.3L150.7 1186.7L153.3 1216.7L155.0 1221.7L157.3 1211.7L160.0 1213.3L161.7 1216.7L164.0 1212.7L166.0 1220.0L168.3 1227.3L171.7 1230.0L173.3 1220.0L176.0 1201.7L177.7 1198.3L180.0 1210.0L183.3 1207.3L186.0 1215.0L188.3 1226.7L190.7 1240.0L193.3 1248.3L196.7 1248.3L200.0 1238.3L203.3 1234.3L206.7 1235.0L210.0 1239.3L213.3 1240.7L216.7 1245.0L220.0 1243.3L223.3 1231.7L226.7 1226.7L229.3 1212.7L231.7 1213.3L234.0 1219.3L236.7 1223.3L239.3 1231.7L241.7 1237.3L244.0 1235.0L246.7 1229.3L250.0 1228.3L253.3 1232.7L256.7 1229.3L259.3 1230.7L262.7 1238.3L266.0 1244.0L269.3 1240.0L272.7 1233.3L275.0 1235.0L278.3 1243.3L281.7 1250.0L284.0 1246.7L285.7 1240.7L288.3 1246.7L290.7 1253.3L293.3 1259.0L296.7 1260.0L300.0 1259.3L302.7 1260.0L305.0 1260.7L308.3 1256.7L311.7 1251.7L315.0 1247.3L317.7 1249.3L320.0 1250.0L322.7 1248.3L326.0 1251.7L329.3 1256.0L333.3 1260.7L336.7 1264.0L340.0 1266.0L342.7 1265.0L345.0 1262.7L348.3 1265.7L351.7 1267.3L355.0 1266.7L358.3 1265.0L361.7 1265.7L365.0 1264.3L368.3 1266.0L371.7 1267.3L375.0 1266.7L378.3 1264.0L380.7 1265.0L383.3 1262.7L386.7 1262.0L389.3 1260.0L392.0 1258.7L395.0 1259.3L398.3 1256.0L400.7 1249.3L403.3 1248.7L406.0 1253.3L408.3 1257.3L410.7 1255.0L413.3 1250.0L416.0 1247.3L418.7 1250.7L421.7 1253.3L424.0 1246.7L426.0 1239.3L428.7 1240.0L431.3 1242.7L433.3 1249.3L436.0 1245.0L438.3 1246.0L441.0 1250.7L444.0 1253.3L446.7 1255.0L450.0 1252.7L453.3 1251.7L456.7 1255.0L460.0 1259.3L463.3 1262.3L466.7 1257.7L470.0 1257.3L473.3 1257.3L476.7 1255.0L480.0 1250.0L483.3 1240.0L486.0 1235.7L488.3 1236.7L490.7 1240.7L493.3 1235.0L496.0 1241.7L498.3 1236.0L500.7 1233.3L503.3 1230.7L506.0 1223.3L508.3 1213.3L510.7 1196.7L512.7 1173.3L514.3 1150.0L516.0 1138.3L518.3 1135.0L520.7 1132.7L522.7 1126.0L524.0 1120.0L526.0 1127.3L528.3 1116.7L530.7 1110.0L532.7 1105.0L534.3 1101.0L536.0 1103.3L537.3 1116.7L539.3 1133.3L541.3 1150.0L542.7 1165.0L544.7 1163.3L546.0 1175.0L548.0 1190.0L550.0 1203.3L552.0 1210.7L554.7 1216.7L557.3 1221.0L560.0 1223.3L562.7 1216.7L564.7 1214.0L566.7 1223.3L568.7 1232.7L571.3 1236.7L574.0 1237.3L576.7 1240.0L579.3 1234.0L581.7 1236.0L584.0 1233.3L586.7 1230.7L588.7 1235.0L590.7 1240.0L593.3 1246.7L596.0 1238.3L598.7 1239.3L601.3 1240.0L604.0 1238.3L606.7 1242.7L609.3 1236.0L611.3 1234.0L613.3 1238.3L615.3 1250.0L618.0 1256.0L620.7 1260.7L623.3 1263.3L626.7 1263.3L630.0 1258.3L633.3 1257.3L636.7 1258.0L640.0 1256.0L643.3 1257.3L646.7 1255.3L650.0 1256.7L652.7 1260.7L655.3 1261.7L658.0 1260.0L660.7 1256.0L663.3 1257.3L666.0 1254.0L668.7 1258.3L671.3 1260.0L674.0 1258.7L676.7 1259.3L679.3 1258.3L682.0 1260.7L684.7 1261.3L687.3 1258.7L690.0 1256.0L692.7 1252.7L695.0 1250.7L697.3 1253.3L700.0 1252.7L702.7 1254.7L705.3 1253.3L708.0 1257.3L710.7 1260.7L713.3 1263.3L716.0 1262.0L718.7 1260.0L721.3 1258.0L724.0 1256.7L726.7 1257.3L729.3 1256.0L732.0 1257.3L734.7 1256.0L737.3 1253.3L740.0 1254.7L742.7 1254.0L745.3 1255.3L748.0 1256.0L750.7 1259.3L753.3 1258.7L756.7 1259.3L760.0 1258.3L763.3 1259.3L766.7 1258.0L770.0 1259.3L773.3 1258.3L776.0 1262.0L778.7 1259.3L781.3 1257.3L784.0 1256.0L786.7 1258.0L789.3 1261.3L792.0 1263.3L794.7 1262.7L797.3 1264.7L800.0 1266.0L802.7 1267.3L805.3 1268.3L808.0 1269.0L810.7 1270.0L813.3 1271.3L815.3 1272.0L817.3 1270.0L820.0 1268.3L822.7 1269.3L825.3 1268.7L828.0 1268.0L830.7 1268.7L833.3 1268.0L836.0 1268.7L838.7 1267.7L841.3 1268.7L844.0 1268.0L846.7 1268.7L849.3 1269.3L852.0 1268.0L854.7 1266.7L857.3 1267.3L860.0 1266.0L863.3 1263.3L866.7 1259.3L870.0 1260.0L872.7 1257.3L875.3 1260.0L878.7 1260.0L882.0 1260.7L885.3 1260.7L888.7 1264.0L892.0 1266.7L895.3 1268.7L898.7 1269.3L902.0 1270.7L904.7 1271.0L907.3 1270.0L910.0 1269.3L913.3 1268.7L916.0 1266.0L918.3 1263.3L920.7 1266.0L923.3 1265.3L926.7 1265.0L929.3 1263.3L932.0 1264.0L934.7 1265.0L937.3 1265.3L940.0 1264.7L942.7 1265.7L945.3 1264.3L948.0 1265.3L950.7 1264.0L953.3 1266.0L956.0 1265.0L958.7 1267.3L961.3 1268.0L964.0 1267.3L966.7 1265.0L969.3 1262.7L972.0 1260.7L974.7 1260.7L977.3 1260.0L980.0 1258.7L982.0 1253.3L983.3 1246.7L985.0 1242.7L986.7 1248.3L988.7 1256.7L990.7 1255.0L993.3 1250.0L996.0 1240.0L998.3 1231.7L1000.7 1225.0L1002.7 1228.3L1005.3 1235.0L1008.0 1241.7L1010.7 1247.3L1013.3 1250.0L1016.0 1248.3L1018.7 1246.7L1021.3 1244.0L1024.0 1238.3L1026.7 1237.3L1029.3 1230.0L1032.0 1220.0L1034.0 1206.7L1036.0 1190.0L1038.0 1170.0L1040.0 1153.3L1041.7 1148.3L1043.3 1155.0L1045.3 1153.3L1047.3 1166.7L1049.3 1186.7L1051.3 1198.3L1053.3 1196.7L1055.3 1191.7L1057.3 1176.7L1059.3 1153.3L1061.3 1123.3L1063.3 1098.3L1065.3 1090.0L1067.3 1078.3L1069.3 1065.0L1071.0 1062.7L1072.7 1076.7L1074.0 1088.3L1076.0 1090.0L1078.0 1100.0L1080.0 1110.0L1082.0 1106.0L1083.3 1116.7L1085.3 1136.7L1087.3 1156.7L1089.3 1168.3L1091.3 1153.3L1093.3 1138.3L1095.3 1146.7L1097.3 1152.7L1099.3 1120.0L1101.0 1114.0L1102.7 1130.0L1104.7 1148.3L1106.7 1136.7L1108.7 1115.0L1110.0 1112.7L1112.0 1133.3L1113.3 1148.3L1115.3 1146.7L1116.7 1163.3L1118.7 1186.7L1120.0 1193.3L1122.0 1183.3L1123.3 1181.0L1125.3 1196.7L1127.3 1210.0L1130.0 1211.7L1132.7 1214.0L1134.7 1220.0L1136.7 1226.7L1138.7 1226.7L1140.7 1206.7L1142.7 1188.3L1144.7 1185.0L1146.7 1200.0L1148.7 1216.7L1150.7 1221.7L1152.7 1228.3" fill="none" stroke="#262626" stroke-width="3" stroke-linejoin="round" stroke-linecap="round"/>
</g>
<g>
<rect x="147.00" y="1382" width="144.30" height="251.5" fill="#e5e5e6"/>
<rect x="426.10" y="1382" width="222.40" height="251.5" fill="#e5e5e6"/>
<rect x="962.36" y="1382" width="190.14" height="251.5" fill="#e5e5e6"/>
<rect x="147.0" y="1382" width="1005.5" height="251.5" fill="none" stroke="#444" stroke-width="1.2"/>
<path d="M156.50 1633.5v-9M156.50 1382v9" stroke="#444" stroke-width="1.1"/>
<text x="156.50" y="1668.0" font-size="26" letter-spacing="0.4" text-anchor="middle" fill="#1a1a1a">07/19</text>
<path d="M291.30 1633.5v-9M291.30 1382v9" stroke="#444" stroke-width="1.1"/>
<text x="291.30" y="1668.0" font-size="26" letter-spacing="0.4" text-anchor="middle" fill="#1a1a1a">10/19</text>
<path d="M426.10 1633.5v-9M426.10 1382v9" stroke="#444" stroke-width="1.1"/>
<text x="426.10" y="1668.0" font-size="26" letter-spacing="0.4" text-anchor="middle" fill="#1a1a1a">01/20</text>
<path d="M559.43 1633.5v-9M559.43 1382v9" stroke="#444" stroke-width="1.1"/>
<text x="559.43" y="1668.0" font-size="26" letter-spacing="0.4" text-anchor="middle" fill="#1a1a1a">04/20</text>
<path d="M692.76 1633.5v-9M692.76 1382v9" stroke="#444" stroke-width="1.1"/>
<text x="692.76" y="1668.0" font-size="26" letter-spacing="0.4" text-anchor="middle" fill="#1a1a1a">07/20</text>
<path d="M827.56 1633.5v-9M827.56 1382v9" stroke="#444" stroke-width="1.1"/>
<text x="827.56" y="1668.0" font-size="26" letter-spacing="0.4" text-anchor="middle" fill="#1a1a1a">10/20</text>
<path d="M962.36 1633.5v-9M962.36 1382v9" stroke="#444" stroke-width="1.1"/>
<text x="962.36" y="1668.0" font-size="26" letter-spacing="0.4" text-anchor="middle" fill="#1a1a1a">01/21</text>
<path d="M1094.23 1633.5v-9M1094.23 1382v9" stroke="#444" stroke-width="1.1"/>
<text x="1094.23" y="1668.0" font-size="26" letter-spacing="0.4" text-anchor="middle" fill="#1a1a1a">04/21</text>
<text x="134.5" y="1642.50" font-size="25.5" text-anchor="end" fill="#1a1a1a">0</text>
<path d="M147.0 1549.67h9M1152.5 1549.67h-9" stroke="#444" stroke-width="1.1"/>
<text x="134.5" y="1558.67" font-size="25.5" text-anchor="end" fill="#1a1a1a">50</text>
<path d="M147.0 1465.83h9M1152.5 1465.83h-9" stroke="#444" stroke-width="1.1"/>
<text x="134.5" y="1474.83" font-size="25.5" text-anchor="end" fill="#1a1a1a">100</text>
<text x="134.5" y="1391.00" font-size="25.5" text-anchor="end" fill="#1a1a1a">150</text>
<text x="156.8" y="1411.5" font-size="28.3" fill="#111">Sverdrup</text>
<text x="431.5" y="1411.5" font-size="28.3" fill="#111">Thor</text>
<text x="967.5" y="1411.5" font-size="28.3" fill="#111">Ursa</text>
<path d="M146.7 1441.7L148.7 1442.3L150.7 1436.7L153.3 1434.3L156.0 1432.3L158.7 1429.3L159.7 1431.7L160.0 1475.0L160.7 1525.0L161.3 1561.7L162.7 1570.0L165.0 1571.0L168.3 1569.7L171.7 1568.3L175.0 1565.0L177.3 1561.0L180.0 1561.7L183.3 1559.0L186.7 1557.0L190.0 1555.0L192.7 1554.3L195.3 1551.0L198.0 1552.3L200.7 1551.0L203.3 1549.0L206.0 1547.0L208.7 1544.3L211.3 1541.7L214.0 1538.3L216.0 1537.3L218.7 1539.0L221.3 1539.7L224.0 1540.3L226.7 1541.7L228.7 1541.7L231.3 1538.3L234.0 1535.7L236.7 1531.0L239.3 1528.3L242.0 1523.3L244.0 1518.3L246.0 1521.0L248.7 1519.0L251.3 1516.7L254.0 1515.0L256.0 1511.7L258.0 1514.3L260.0 1510.0L262.0 1508.3L264.0 1505.7L266.0 1506.3L268.0 1503.7L270.0 1501.7L271.3 1505.7L273.3 1509.0L276.0 1513.3L278.0 1517.7L280.0 1516.7L282.0 1521.7L284.0 1526.7L285.3 1525.7L286.7 1531.7L288.0 1533.7L290.0 1530.0L292.0 1531.0L293.3 1521.7L294.7 1515.0L296.7 1513.3L299.3 1510.0L302.0 1505.7L304.7 1502.7L306.7 1501.7L309.3 1503.3L312.0 1504.3L314.0 1507.0L316.7 1509.3L319.3 1507.0L322.0 1505.7L324.7 1503.3L327.3 1500.0L330.0 1495.0L332.7 1491.7L335.3 1489.7L338.0 1487.0L340.7 1486.0L343.3 1487.0L346.0 1487.7L348.7 1490.0L351.3 1488.3L354.0 1485.0L356.0 1479.0L358.0 1477.7L360.7 1477.7L363.3 1477.0L366.0 1476.7L368.0 1473.3L370.0 1468.3L372.7 1464.3L375.3 1461.0L377.3 1459.0L380.0 1460.3L382.7 1461.0L385.3 1462.3L388.0 1463.7L390.7 1465.7L393.3 1467.7L396.0 1469.0L398.7 1466.7L400.7 1464.3L403.3 1464.3L406.0 1465.0L408.7 1465.7L411.3 1467.0L414.0 1468.3L416.7 1469.7L419.3 1471.7L422.0 1473.7L424.0 1477.7L426.0 1479.0L428.0 1475.0L429.3 1474.3L430.7 1479.0L432.0 1483.3L433.3 1482.3L434.7 1486.7L436.7 1488.3L438.0 1493.3L438.7 1525.0L439.3 1575.0L440.0 1615.0L440.7 1629.0L442.7 1631.0L445.3 1630.0L448.0 1626.7L450.7 1622.3L453.3 1619.0L456.7 1616.3L460.0 1614.3L463.3 1613.7L466.7 1613.0L470.0 1613.3L473.3 1612.3L476.7 1611.7L480.0 1613.0L483.3 1612.3L486.7 1610.0L490.0 1608.3L493.3 1607.7L496.7 1606.3L500.0 1607.7L503.3 1607.0L506.7 1608.3L510.0 1607.0L513.3 1605.7L516.7 1605.0L520.0 1602.3L522.0 1600.3L524.7 1601.0L527.3 1599.0L529.3 1598.3L530.7 1603.3L531.3 1588.3L532.0 1541.7L532.7 1516.7L534.7 1513.3L536.7 1506.7L538.7 1501.0L540.7 1496.7L542.7 1495.0L544.7 1497.7L546.7 1501.7L548.7 1506.7L550.7 1508.3L551.3 1535.0L552.0 1561.7L552.7 1576.7L554.0 1578.3L554.7 1548.3L555.3 1514.3L556.0 1541.7L556.7 1575.0L557.3 1583.3L559.3 1584.3L562.0 1581.7L564.7 1579.7L567.3 1580.3L570.0 1578.3L572.7 1579.7L575.3 1577.0L578.0 1573.7L580.7 1571.7L582.7 1571.7L584.7 1575.0L587.3 1578.3L590.0 1582.3L592.7 1585.0L595.3 1586.7L598.0 1588.3L600.7 1587.7L603.3 1588.3L606.0 1587.7L608.7 1588.3L611.3 1587.0L614.0 1588.3L616.7 1587.0L619.3 1588.3L621.3 1584.3L624.0 1583.7L626.7 1583.0L629.3 1583.7L632.0 1582.3L634.7 1583.0L637.3 1581.7L640.0 1582.3L642.7 1581.0L645.3 1581.7L648.0 1582.3L650.0 1585.0L652.7 1588.3L654.7 1591.7L656.7 1595.0L659.3 1594.3L662.0 1596.3L664.7 1597.7L667.3 1599.7L670.0 1601.7L672.7 1603.0L675.3 1601.7L678.0 1603.0L680.7 1602.3L683.3 1603.7L686.0 1604.3L688.7 1603.7L691.3 1603.0L694.0 1601.7L696.7 1600.3L699.3 1599.0L702.0 1598.3L704.7 1596.3L707.3 1593.7L710.0 1590.3L712.7 1586.3L715.3 1581.0L718.0 1576.7L720.7 1572.3L723.3 1569.0L726.0 1565.0L728.7 1561.0L731.3 1557.7L734.0 1554.3L736.7 1551.7L739.3 1550.0L742.0 1549.7L744.7 1549.0L747.3 1549.7L750.0 1551.0L752.7 1551.7L755.3 1550.3L757.3 1552.3L759.3 1548.3L761.3 1553.3L762.7 1557.7L764.0 1551.7L765.3 1545.7L767.3 1541.7L770.0 1541.0L772.7 1540.3L774.7 1541.7L776.7 1540.3L778.7 1543.0L780.0 1548.3L781.3 1543.7L783.3 1541.7L786.0 1543.0L788.7 1545.0L791.3 1546.3L794.0 1547.7L796.7 1546.3L799.3 1547.7L802.0 1549.7L804.0 1555.0L806.7 1557.7L809.3 1561.7L812.0 1564.3L814.7 1562.3L817.3 1565.0L820.0 1568.3L822.7 1571.7L825.3 1574.3L828.0 1576.3L830.7 1579.0L833.3 1581.7L836.0 1585.0L838.0 1590.0L840.0 1594.3L842.7 1597.7L845.3 1596.3L848.0 1594.3L850.7 1595.0L853.3 1591.7L856.0 1588.3L858.7 1585.0L863.3 1577.7L866.0 1575.7L868.7 1573.0L871.3 1571.0L874.0 1567.7L876.7 1568.3L879.3 1567.0L882.0 1567.7L884.7 1567.0L887.3 1568.3L890.0 1567.7L892.7 1563.3L895.3 1556.7L898.0 1551.7L900.7 1548.3L903.3 1545.7L906.0 1541.7L908.0 1540.3L910.0 1543.3L912.0 1538.3L914.0 1541.7L916.7 1543.3L919.3 1544.3L921.3 1547.7L923.3 1549.0L925.3 1546.3L928.0 1543.0L930.7 1539.7L933.3 1536.3L936.0 1532.3L938.7 1527.7L941.3 1525.0L944.0 1521.0L946.7 1516.7L948.0 1515.7L950.0 1518.3L952.7 1519.0L955.3 1518.3L958.0 1517.7L960.7 1515.0L963.3 1511.7L966.0 1509.0L968.7 1507.7L971.3 1507.7L974.0 1510.0L976.7 1512.3L979.3 1515.0L981.3 1516.3L984.0 1514.3L986.7 1515.0L989.3 1516.3L992.0 1517.7L994.7 1518.3L997.3 1520.0L1000.0 1513.3L1002.7 1511.0L1005.3 1509.0L1008.0 1508.3L1010.0 1511.7L1012.7 1511.0L1015.3 1509.7L1018.0 1507.7L1020.7 1505.0L1022.7 1498.3L1025.3 1495.7L1028.0 1490.0L1030.7 1486.7L1033.3 1485.0L1036.0 1483.7L1038.7 1484.3L1041.3 1482.3L1043.3 1486.7L1045.3 1484.3L1047.3 1488.3L1048.7 1515.0L1049.3 1548.3L1050.0 1573.3L1052.0 1574.3L1054.7 1575.0L1057.3 1576.3L1060.0 1577.0L1062.7 1579.0L1064.0 1577.7L1064.7 1555.0L1065.3 1515.0L1066.0 1490.0L1067.3 1482.3L1069.3 1486.7L1071.3 1483.3L1073.3 1486.7L1075.3 1490.0L1077.3 1494.3L1079.3 1498.3L1081.3 1496.7L1083.3 1501.0L1085.3 1496.7L1087.3 1494.3L1089.3 1492.3L1091.3 1493.3L1093.3 1490.0L1095.3 1491.7L1097.3 1485.0L1098.7 1481.7L1100.0 1488.3L1101.3 1481.0L1102.7 1486.7L1104.7 1483.3L1106.7 1485.0L1108.7 1480.0L1110.0 1476.7L1111.3 1481.7L1112.7 1475.0L1114.7 1473.7L1116.7 1476.7L1117.3 1501.7L1118.0 1528.3L1118.7 1541.7L1120.7 1546.7L1122.7 1545.7L1124.7 1541.7L1126.7 1538.3L1128.7 1540.0L1130.7 1537.7L1132.7 1535.0L1134.7 1535.7L1136.7 1531.7L1138.7 1529.0L1140.7 1535.0L1142.7 1536.3L1144.7 1537.0L1147.3 1538.3L1150.0 1539.0L1152.0 1539.7" fill="none" stroke="#262626" stroke-width="3" stroke-linejoin="round" stroke-linecap="round"/>
</g>
<text transform="translate(31.2 1152.7) rotate(-90)" font-size="32" text-anchor="middle" fill="#1a1a1a">Array Averaged</text>
<text transform="translate(79 1153) rotate(-90)" font-size="32" text-anchor="middle" fill="#1a1a1a">EKE [cm<tspan font-size="22.5" dy="-16.5">2</tspan><tspan dy="16.5"> s</tspan><tspan font-size="22.5" dy="-16.5">-2</tspan><tspan dy="16.5">]</tspan></text>
<text transform="translate(31.2 1507.5) rotate(-90)" font-size="32" text-anchor="middle" fill="#1a1a1a">Loop Current</text>
<text transform="translate(79 1509) rotate(-90)" font-size="32" text-anchor="middle" fill="#1a1a1a">Area [10<tspan font-size="22.5" dy="-16.5">3</tspan><tspan dy="16.5">km</tspan><tspan font-size="22.5" dy="-16.5">2</tspan><tspan dy="16.5">]</tspan></text>
</svg>
</body></html>
